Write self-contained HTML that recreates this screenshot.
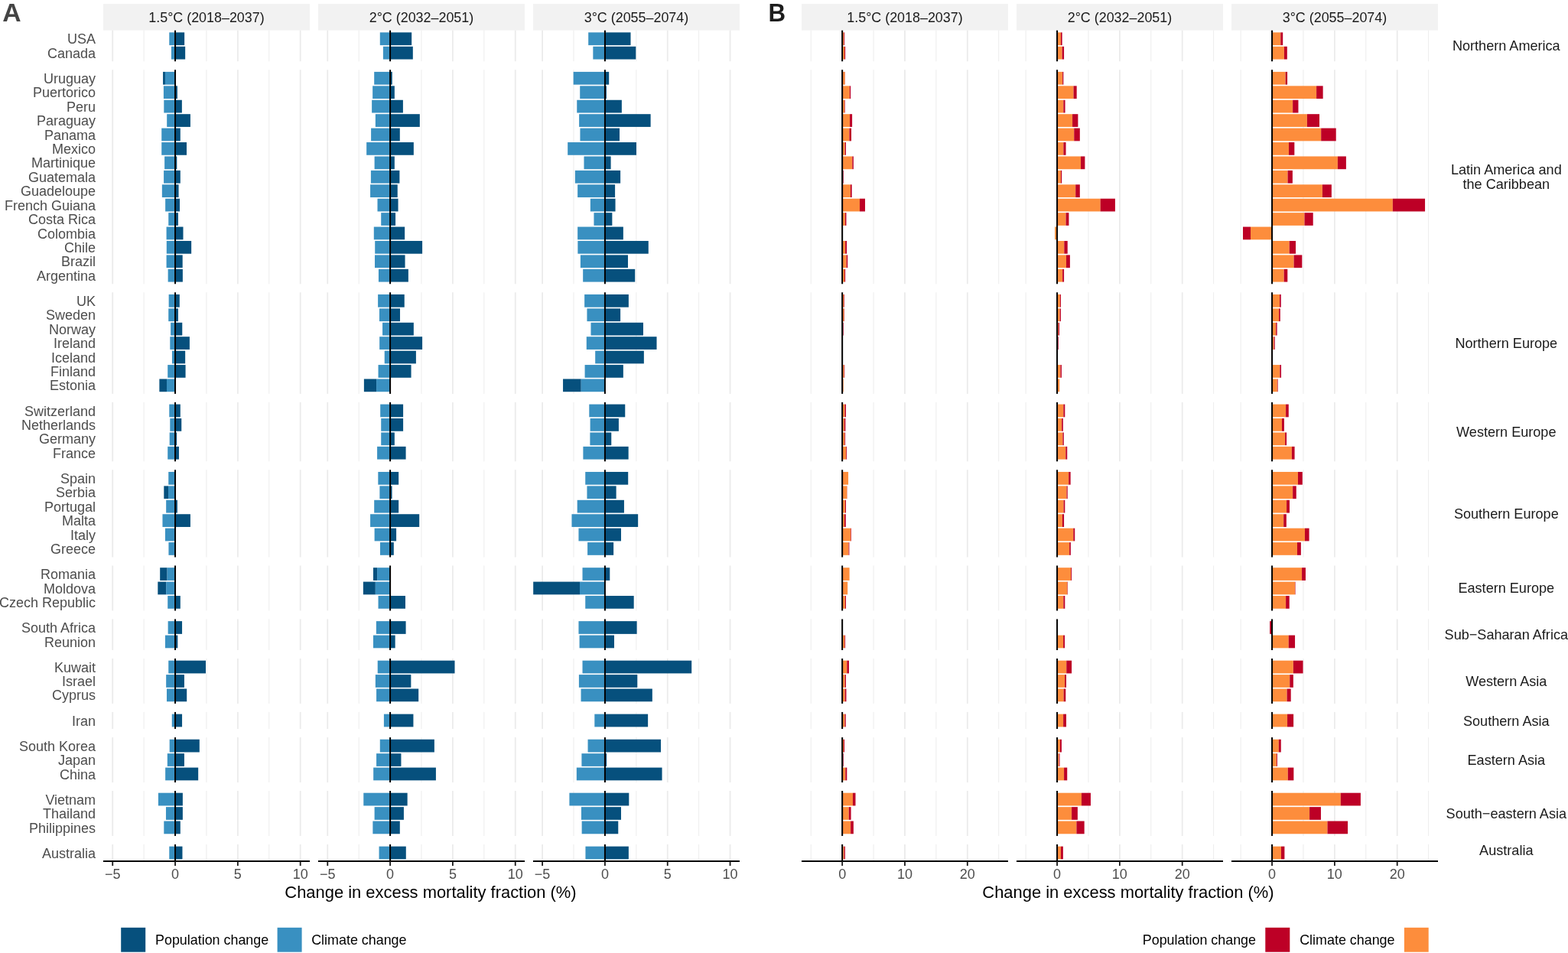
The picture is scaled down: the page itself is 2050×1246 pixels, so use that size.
<!DOCTYPE html>
<html lang="en">
<head>
<meta charset="utf-8">
<title>Change in excess mortality fraction</title>
<style>
html,body{margin:0;padding:0;background:#ffffff;}
body{width:2050px;height:1246px;overflow:hidden;}
svg{display:block;}
svg text{font-family:"Liberation Sans",Arial,Helvetica,sans-serif;}
</style>
</head>
<body>
<svg width="2050" height="1246" viewBox="0 0 2050 1246">
<rect x="0" y="0" width="2050" height="1246" fill="#ffffff"/>
<rect x="135.00" y="5.10" width="270.00" height="34.60" fill="#f2f2f2"/>
<text x="270.00" y="29.30" font-size="17.9" fill="#1a1a1a" text-anchor="middle">1.5°C (2018–2037)</text>
<rect x="416.00" y="5.10" width="270.00" height="34.60" fill="#f2f2f2"/>
<text x="551.00" y="29.30" font-size="17.9" fill="#1a1a1a" text-anchor="middle">2°C (2032–2051)</text>
<rect x="697.00" y="5.10" width="270.00" height="34.60" fill="#f2f2f2"/>
<text x="832.00" y="29.30" font-size="17.9" fill="#1a1a1a" text-anchor="middle">3°C (2055–2074)</text>
<rect x="1048.00" y="5.10" width="270.00" height="34.60" fill="#f2f2f2"/>
<text x="1183.00" y="29.30" font-size="17.9" fill="#1a1a1a" text-anchor="middle">1.5°C (2018–2037)</text>
<rect x="1329.00" y="5.10" width="270.00" height="34.60" fill="#f2f2f2"/>
<text x="1464.00" y="29.30" font-size="17.9" fill="#1a1a1a" text-anchor="middle">2°C (2032–2051)</text>
<rect x="1610.00" y="5.10" width="270.00" height="34.60" fill="#f2f2f2"/>
<text x="1745.00" y="29.30" font-size="17.9" fill="#1a1a1a" text-anchor="middle">3°C (2055–2074)</text>
<line x1="188.14" y1="39.70" x2="188.14" y2="80.23" stroke="#ebebeb" stroke-width="0.95"/>
<line x1="269.96" y1="39.70" x2="269.96" y2="80.23" stroke="#ebebeb" stroke-width="0.95"/>
<line x1="351.78" y1="39.70" x2="351.78" y2="80.23" stroke="#ebebeb" stroke-width="0.95"/>
<line x1="147.23" y1="39.70" x2="147.23" y2="80.23" stroke="#ebebeb" stroke-width="1.8"/>
<line x1="229.05" y1="39.70" x2="229.05" y2="80.23" stroke="#ebebeb" stroke-width="1.8"/>
<line x1="310.87" y1="39.70" x2="310.87" y2="80.23" stroke="#ebebeb" stroke-width="1.8"/>
<line x1="392.69" y1="39.70" x2="392.69" y2="80.23" stroke="#ebebeb" stroke-width="1.8"/>
<line x1="188.14" y1="91.23" x2="188.14" y2="371.26" stroke="#ebebeb" stroke-width="0.95"/>
<line x1="269.96" y1="91.23" x2="269.96" y2="371.26" stroke="#ebebeb" stroke-width="0.95"/>
<line x1="351.78" y1="91.23" x2="351.78" y2="371.26" stroke="#ebebeb" stroke-width="0.95"/>
<line x1="147.23" y1="91.23" x2="147.23" y2="371.26" stroke="#ebebeb" stroke-width="1.8"/>
<line x1="229.05" y1="91.23" x2="229.05" y2="371.26" stroke="#ebebeb" stroke-width="1.8"/>
<line x1="310.87" y1="91.23" x2="310.87" y2="371.26" stroke="#ebebeb" stroke-width="1.8"/>
<line x1="392.69" y1="91.23" x2="392.69" y2="371.26" stroke="#ebebeb" stroke-width="1.8"/>
<line x1="188.14" y1="382.26" x2="188.14" y2="514.91" stroke="#ebebeb" stroke-width="0.95"/>
<line x1="269.96" y1="382.26" x2="269.96" y2="514.91" stroke="#ebebeb" stroke-width="0.95"/>
<line x1="351.78" y1="382.26" x2="351.78" y2="514.91" stroke="#ebebeb" stroke-width="0.95"/>
<line x1="147.23" y1="382.26" x2="147.23" y2="514.91" stroke="#ebebeb" stroke-width="1.8"/>
<line x1="229.05" y1="382.26" x2="229.05" y2="514.91" stroke="#ebebeb" stroke-width="1.8"/>
<line x1="310.87" y1="382.26" x2="310.87" y2="514.91" stroke="#ebebeb" stroke-width="1.8"/>
<line x1="392.69" y1="382.26" x2="392.69" y2="514.91" stroke="#ebebeb" stroke-width="1.8"/>
<line x1="188.14" y1="525.91" x2="188.14" y2="603.28" stroke="#ebebeb" stroke-width="0.95"/>
<line x1="269.96" y1="525.91" x2="269.96" y2="603.28" stroke="#ebebeb" stroke-width="0.95"/>
<line x1="351.78" y1="525.91" x2="351.78" y2="603.28" stroke="#ebebeb" stroke-width="0.95"/>
<line x1="147.23" y1="525.91" x2="147.23" y2="603.28" stroke="#ebebeb" stroke-width="1.8"/>
<line x1="229.05" y1="525.91" x2="229.05" y2="603.28" stroke="#ebebeb" stroke-width="1.8"/>
<line x1="310.87" y1="525.91" x2="310.87" y2="603.28" stroke="#ebebeb" stroke-width="1.8"/>
<line x1="392.69" y1="525.91" x2="392.69" y2="603.28" stroke="#ebebeb" stroke-width="1.8"/>
<line x1="188.14" y1="614.28" x2="188.14" y2="728.50" stroke="#ebebeb" stroke-width="0.95"/>
<line x1="269.96" y1="614.28" x2="269.96" y2="728.50" stroke="#ebebeb" stroke-width="0.95"/>
<line x1="351.78" y1="614.28" x2="351.78" y2="728.50" stroke="#ebebeb" stroke-width="0.95"/>
<line x1="147.23" y1="614.28" x2="147.23" y2="728.50" stroke="#ebebeb" stroke-width="1.8"/>
<line x1="229.05" y1="614.28" x2="229.05" y2="728.50" stroke="#ebebeb" stroke-width="1.8"/>
<line x1="310.87" y1="614.28" x2="310.87" y2="728.50" stroke="#ebebeb" stroke-width="1.8"/>
<line x1="392.69" y1="614.28" x2="392.69" y2="728.50" stroke="#ebebeb" stroke-width="1.8"/>
<line x1="188.14" y1="739.50" x2="188.14" y2="798.46" stroke="#ebebeb" stroke-width="0.95"/>
<line x1="269.96" y1="739.50" x2="269.96" y2="798.46" stroke="#ebebeb" stroke-width="0.95"/>
<line x1="351.78" y1="739.50" x2="351.78" y2="798.46" stroke="#ebebeb" stroke-width="0.95"/>
<line x1="147.23" y1="739.50" x2="147.23" y2="798.46" stroke="#ebebeb" stroke-width="1.8"/>
<line x1="229.05" y1="739.50" x2="229.05" y2="798.46" stroke="#ebebeb" stroke-width="1.8"/>
<line x1="310.87" y1="739.50" x2="310.87" y2="798.46" stroke="#ebebeb" stroke-width="1.8"/>
<line x1="392.69" y1="739.50" x2="392.69" y2="798.46" stroke="#ebebeb" stroke-width="1.8"/>
<line x1="188.14" y1="809.46" x2="188.14" y2="849.99" stroke="#ebebeb" stroke-width="0.95"/>
<line x1="269.96" y1="809.46" x2="269.96" y2="849.99" stroke="#ebebeb" stroke-width="0.95"/>
<line x1="351.78" y1="809.46" x2="351.78" y2="849.99" stroke="#ebebeb" stroke-width="0.95"/>
<line x1="147.23" y1="809.46" x2="147.23" y2="849.99" stroke="#ebebeb" stroke-width="1.8"/>
<line x1="229.05" y1="809.46" x2="229.05" y2="849.99" stroke="#ebebeb" stroke-width="1.8"/>
<line x1="310.87" y1="809.46" x2="310.87" y2="849.99" stroke="#ebebeb" stroke-width="1.8"/>
<line x1="392.69" y1="809.46" x2="392.69" y2="849.99" stroke="#ebebeb" stroke-width="1.8"/>
<line x1="188.14" y1="860.99" x2="188.14" y2="919.94" stroke="#ebebeb" stroke-width="0.95"/>
<line x1="269.96" y1="860.99" x2="269.96" y2="919.94" stroke="#ebebeb" stroke-width="0.95"/>
<line x1="351.78" y1="860.99" x2="351.78" y2="919.94" stroke="#ebebeb" stroke-width="0.95"/>
<line x1="147.23" y1="860.99" x2="147.23" y2="919.94" stroke="#ebebeb" stroke-width="1.8"/>
<line x1="229.05" y1="860.99" x2="229.05" y2="919.94" stroke="#ebebeb" stroke-width="1.8"/>
<line x1="310.87" y1="860.99" x2="310.87" y2="919.94" stroke="#ebebeb" stroke-width="1.8"/>
<line x1="392.69" y1="860.99" x2="392.69" y2="919.94" stroke="#ebebeb" stroke-width="1.8"/>
<line x1="188.14" y1="930.94" x2="188.14" y2="953.05" stroke="#ebebeb" stroke-width="0.95"/>
<line x1="269.96" y1="930.94" x2="269.96" y2="953.05" stroke="#ebebeb" stroke-width="0.95"/>
<line x1="351.78" y1="930.94" x2="351.78" y2="953.05" stroke="#ebebeb" stroke-width="0.95"/>
<line x1="147.23" y1="930.94" x2="147.23" y2="953.05" stroke="#ebebeb" stroke-width="1.8"/>
<line x1="229.05" y1="930.94" x2="229.05" y2="953.05" stroke="#ebebeb" stroke-width="1.8"/>
<line x1="310.87" y1="930.94" x2="310.87" y2="953.05" stroke="#ebebeb" stroke-width="1.8"/>
<line x1="392.69" y1="930.94" x2="392.69" y2="953.05" stroke="#ebebeb" stroke-width="1.8"/>
<line x1="188.14" y1="964.05" x2="188.14" y2="1023.00" stroke="#ebebeb" stroke-width="0.95"/>
<line x1="269.96" y1="964.05" x2="269.96" y2="1023.00" stroke="#ebebeb" stroke-width="0.95"/>
<line x1="351.78" y1="964.05" x2="351.78" y2="1023.00" stroke="#ebebeb" stroke-width="0.95"/>
<line x1="147.23" y1="964.05" x2="147.23" y2="1023.00" stroke="#ebebeb" stroke-width="1.8"/>
<line x1="229.05" y1="964.05" x2="229.05" y2="1023.00" stroke="#ebebeb" stroke-width="1.8"/>
<line x1="310.87" y1="964.05" x2="310.87" y2="1023.00" stroke="#ebebeb" stroke-width="1.8"/>
<line x1="392.69" y1="964.05" x2="392.69" y2="1023.00" stroke="#ebebeb" stroke-width="1.8"/>
<line x1="188.14" y1="1034.00" x2="188.14" y2="1092.96" stroke="#ebebeb" stroke-width="0.95"/>
<line x1="269.96" y1="1034.00" x2="269.96" y2="1092.96" stroke="#ebebeb" stroke-width="0.95"/>
<line x1="351.78" y1="1034.00" x2="351.78" y2="1092.96" stroke="#ebebeb" stroke-width="0.95"/>
<line x1="147.23" y1="1034.00" x2="147.23" y2="1092.96" stroke="#ebebeb" stroke-width="1.8"/>
<line x1="229.05" y1="1034.00" x2="229.05" y2="1092.96" stroke="#ebebeb" stroke-width="1.8"/>
<line x1="310.87" y1="1034.00" x2="310.87" y2="1092.96" stroke="#ebebeb" stroke-width="1.8"/>
<line x1="392.69" y1="1034.00" x2="392.69" y2="1092.96" stroke="#ebebeb" stroke-width="1.8"/>
<line x1="188.14" y1="1103.96" x2="188.14" y2="1126.07" stroke="#ebebeb" stroke-width="0.95"/>
<line x1="269.96" y1="1103.96" x2="269.96" y2="1126.07" stroke="#ebebeb" stroke-width="0.95"/>
<line x1="351.78" y1="1103.96" x2="351.78" y2="1126.07" stroke="#ebebeb" stroke-width="0.95"/>
<line x1="147.23" y1="1103.96" x2="147.23" y2="1126.07" stroke="#ebebeb" stroke-width="1.8"/>
<line x1="229.05" y1="1103.96" x2="229.05" y2="1126.07" stroke="#ebebeb" stroke-width="1.8"/>
<line x1="310.87" y1="1103.96" x2="310.87" y2="1126.07" stroke="#ebebeb" stroke-width="1.8"/>
<line x1="392.69" y1="1103.96" x2="392.69" y2="1126.07" stroke="#ebebeb" stroke-width="1.8"/>
<line x1="469.19" y1="39.70" x2="469.19" y2="80.23" stroke="#ebebeb" stroke-width="0.95"/>
<line x1="551.01" y1="39.70" x2="551.01" y2="80.23" stroke="#ebebeb" stroke-width="0.95"/>
<line x1="632.82" y1="39.70" x2="632.82" y2="80.23" stroke="#ebebeb" stroke-width="0.95"/>
<line x1="428.28" y1="39.70" x2="428.28" y2="80.23" stroke="#ebebeb" stroke-width="1.8"/>
<line x1="510.10" y1="39.70" x2="510.10" y2="80.23" stroke="#ebebeb" stroke-width="1.8"/>
<line x1="591.91" y1="39.70" x2="591.91" y2="80.23" stroke="#ebebeb" stroke-width="1.8"/>
<line x1="673.73" y1="39.70" x2="673.73" y2="80.23" stroke="#ebebeb" stroke-width="1.8"/>
<line x1="469.19" y1="91.23" x2="469.19" y2="371.26" stroke="#ebebeb" stroke-width="0.95"/>
<line x1="551.01" y1="91.23" x2="551.01" y2="371.26" stroke="#ebebeb" stroke-width="0.95"/>
<line x1="632.82" y1="91.23" x2="632.82" y2="371.26" stroke="#ebebeb" stroke-width="0.95"/>
<line x1="428.28" y1="91.23" x2="428.28" y2="371.26" stroke="#ebebeb" stroke-width="1.8"/>
<line x1="510.10" y1="91.23" x2="510.10" y2="371.26" stroke="#ebebeb" stroke-width="1.8"/>
<line x1="591.91" y1="91.23" x2="591.91" y2="371.26" stroke="#ebebeb" stroke-width="1.8"/>
<line x1="673.73" y1="91.23" x2="673.73" y2="371.26" stroke="#ebebeb" stroke-width="1.8"/>
<line x1="469.19" y1="382.26" x2="469.19" y2="514.91" stroke="#ebebeb" stroke-width="0.95"/>
<line x1="551.01" y1="382.26" x2="551.01" y2="514.91" stroke="#ebebeb" stroke-width="0.95"/>
<line x1="632.82" y1="382.26" x2="632.82" y2="514.91" stroke="#ebebeb" stroke-width="0.95"/>
<line x1="428.28" y1="382.26" x2="428.28" y2="514.91" stroke="#ebebeb" stroke-width="1.8"/>
<line x1="510.10" y1="382.26" x2="510.10" y2="514.91" stroke="#ebebeb" stroke-width="1.8"/>
<line x1="591.91" y1="382.26" x2="591.91" y2="514.91" stroke="#ebebeb" stroke-width="1.8"/>
<line x1="673.73" y1="382.26" x2="673.73" y2="514.91" stroke="#ebebeb" stroke-width="1.8"/>
<line x1="469.19" y1="525.91" x2="469.19" y2="603.28" stroke="#ebebeb" stroke-width="0.95"/>
<line x1="551.01" y1="525.91" x2="551.01" y2="603.28" stroke="#ebebeb" stroke-width="0.95"/>
<line x1="632.82" y1="525.91" x2="632.82" y2="603.28" stroke="#ebebeb" stroke-width="0.95"/>
<line x1="428.28" y1="525.91" x2="428.28" y2="603.28" stroke="#ebebeb" stroke-width="1.8"/>
<line x1="510.10" y1="525.91" x2="510.10" y2="603.28" stroke="#ebebeb" stroke-width="1.8"/>
<line x1="591.91" y1="525.91" x2="591.91" y2="603.28" stroke="#ebebeb" stroke-width="1.8"/>
<line x1="673.73" y1="525.91" x2="673.73" y2="603.28" stroke="#ebebeb" stroke-width="1.8"/>
<line x1="469.19" y1="614.28" x2="469.19" y2="728.50" stroke="#ebebeb" stroke-width="0.95"/>
<line x1="551.01" y1="614.28" x2="551.01" y2="728.50" stroke="#ebebeb" stroke-width="0.95"/>
<line x1="632.82" y1="614.28" x2="632.82" y2="728.50" stroke="#ebebeb" stroke-width="0.95"/>
<line x1="428.28" y1="614.28" x2="428.28" y2="728.50" stroke="#ebebeb" stroke-width="1.8"/>
<line x1="510.10" y1="614.28" x2="510.10" y2="728.50" stroke="#ebebeb" stroke-width="1.8"/>
<line x1="591.91" y1="614.28" x2="591.91" y2="728.50" stroke="#ebebeb" stroke-width="1.8"/>
<line x1="673.73" y1="614.28" x2="673.73" y2="728.50" stroke="#ebebeb" stroke-width="1.8"/>
<line x1="469.19" y1="739.50" x2="469.19" y2="798.46" stroke="#ebebeb" stroke-width="0.95"/>
<line x1="551.01" y1="739.50" x2="551.01" y2="798.46" stroke="#ebebeb" stroke-width="0.95"/>
<line x1="632.82" y1="739.50" x2="632.82" y2="798.46" stroke="#ebebeb" stroke-width="0.95"/>
<line x1="428.28" y1="739.50" x2="428.28" y2="798.46" stroke="#ebebeb" stroke-width="1.8"/>
<line x1="510.10" y1="739.50" x2="510.10" y2="798.46" stroke="#ebebeb" stroke-width="1.8"/>
<line x1="591.91" y1="739.50" x2="591.91" y2="798.46" stroke="#ebebeb" stroke-width="1.8"/>
<line x1="673.73" y1="739.50" x2="673.73" y2="798.46" stroke="#ebebeb" stroke-width="1.8"/>
<line x1="469.19" y1="809.46" x2="469.19" y2="849.99" stroke="#ebebeb" stroke-width="0.95"/>
<line x1="551.01" y1="809.46" x2="551.01" y2="849.99" stroke="#ebebeb" stroke-width="0.95"/>
<line x1="632.82" y1="809.46" x2="632.82" y2="849.99" stroke="#ebebeb" stroke-width="0.95"/>
<line x1="428.28" y1="809.46" x2="428.28" y2="849.99" stroke="#ebebeb" stroke-width="1.8"/>
<line x1="510.10" y1="809.46" x2="510.10" y2="849.99" stroke="#ebebeb" stroke-width="1.8"/>
<line x1="591.91" y1="809.46" x2="591.91" y2="849.99" stroke="#ebebeb" stroke-width="1.8"/>
<line x1="673.73" y1="809.46" x2="673.73" y2="849.99" stroke="#ebebeb" stroke-width="1.8"/>
<line x1="469.19" y1="860.99" x2="469.19" y2="919.94" stroke="#ebebeb" stroke-width="0.95"/>
<line x1="551.01" y1="860.99" x2="551.01" y2="919.94" stroke="#ebebeb" stroke-width="0.95"/>
<line x1="632.82" y1="860.99" x2="632.82" y2="919.94" stroke="#ebebeb" stroke-width="0.95"/>
<line x1="428.28" y1="860.99" x2="428.28" y2="919.94" stroke="#ebebeb" stroke-width="1.8"/>
<line x1="510.10" y1="860.99" x2="510.10" y2="919.94" stroke="#ebebeb" stroke-width="1.8"/>
<line x1="591.91" y1="860.99" x2="591.91" y2="919.94" stroke="#ebebeb" stroke-width="1.8"/>
<line x1="673.73" y1="860.99" x2="673.73" y2="919.94" stroke="#ebebeb" stroke-width="1.8"/>
<line x1="469.19" y1="930.94" x2="469.19" y2="953.05" stroke="#ebebeb" stroke-width="0.95"/>
<line x1="551.01" y1="930.94" x2="551.01" y2="953.05" stroke="#ebebeb" stroke-width="0.95"/>
<line x1="632.82" y1="930.94" x2="632.82" y2="953.05" stroke="#ebebeb" stroke-width="0.95"/>
<line x1="428.28" y1="930.94" x2="428.28" y2="953.05" stroke="#ebebeb" stroke-width="1.8"/>
<line x1="510.10" y1="930.94" x2="510.10" y2="953.05" stroke="#ebebeb" stroke-width="1.8"/>
<line x1="591.91" y1="930.94" x2="591.91" y2="953.05" stroke="#ebebeb" stroke-width="1.8"/>
<line x1="673.73" y1="930.94" x2="673.73" y2="953.05" stroke="#ebebeb" stroke-width="1.8"/>
<line x1="469.19" y1="964.05" x2="469.19" y2="1023.00" stroke="#ebebeb" stroke-width="0.95"/>
<line x1="551.01" y1="964.05" x2="551.01" y2="1023.00" stroke="#ebebeb" stroke-width="0.95"/>
<line x1="632.82" y1="964.05" x2="632.82" y2="1023.00" stroke="#ebebeb" stroke-width="0.95"/>
<line x1="428.28" y1="964.05" x2="428.28" y2="1023.00" stroke="#ebebeb" stroke-width="1.8"/>
<line x1="510.10" y1="964.05" x2="510.10" y2="1023.00" stroke="#ebebeb" stroke-width="1.8"/>
<line x1="591.91" y1="964.05" x2="591.91" y2="1023.00" stroke="#ebebeb" stroke-width="1.8"/>
<line x1="673.73" y1="964.05" x2="673.73" y2="1023.00" stroke="#ebebeb" stroke-width="1.8"/>
<line x1="469.19" y1="1034.00" x2="469.19" y2="1092.96" stroke="#ebebeb" stroke-width="0.95"/>
<line x1="551.01" y1="1034.00" x2="551.01" y2="1092.96" stroke="#ebebeb" stroke-width="0.95"/>
<line x1="632.82" y1="1034.00" x2="632.82" y2="1092.96" stroke="#ebebeb" stroke-width="0.95"/>
<line x1="428.28" y1="1034.00" x2="428.28" y2="1092.96" stroke="#ebebeb" stroke-width="1.8"/>
<line x1="510.10" y1="1034.00" x2="510.10" y2="1092.96" stroke="#ebebeb" stroke-width="1.8"/>
<line x1="591.91" y1="1034.00" x2="591.91" y2="1092.96" stroke="#ebebeb" stroke-width="1.8"/>
<line x1="673.73" y1="1034.00" x2="673.73" y2="1092.96" stroke="#ebebeb" stroke-width="1.8"/>
<line x1="469.19" y1="1103.96" x2="469.19" y2="1126.07" stroke="#ebebeb" stroke-width="0.95"/>
<line x1="551.01" y1="1103.96" x2="551.01" y2="1126.07" stroke="#ebebeb" stroke-width="0.95"/>
<line x1="632.82" y1="1103.96" x2="632.82" y2="1126.07" stroke="#ebebeb" stroke-width="0.95"/>
<line x1="428.28" y1="1103.96" x2="428.28" y2="1126.07" stroke="#ebebeb" stroke-width="1.8"/>
<line x1="510.10" y1="1103.96" x2="510.10" y2="1126.07" stroke="#ebebeb" stroke-width="1.8"/>
<line x1="591.91" y1="1103.96" x2="591.91" y2="1126.07" stroke="#ebebeb" stroke-width="1.8"/>
<line x1="673.73" y1="1103.96" x2="673.73" y2="1126.07" stroke="#ebebeb" stroke-width="1.8"/>
<line x1="750.01" y1="39.70" x2="750.01" y2="80.23" stroke="#ebebeb" stroke-width="0.95"/>
<line x1="831.83" y1="39.70" x2="831.83" y2="80.23" stroke="#ebebeb" stroke-width="0.95"/>
<line x1="913.65" y1="39.70" x2="913.65" y2="80.23" stroke="#ebebeb" stroke-width="0.95"/>
<line x1="709.11" y1="39.70" x2="709.11" y2="80.23" stroke="#ebebeb" stroke-width="1.8"/>
<line x1="790.92" y1="39.70" x2="790.92" y2="80.23" stroke="#ebebeb" stroke-width="1.8"/>
<line x1="872.74" y1="39.70" x2="872.74" y2="80.23" stroke="#ebebeb" stroke-width="1.8"/>
<line x1="954.56" y1="39.70" x2="954.56" y2="80.23" stroke="#ebebeb" stroke-width="1.8"/>
<line x1="750.01" y1="91.23" x2="750.01" y2="371.26" stroke="#ebebeb" stroke-width="0.95"/>
<line x1="831.83" y1="91.23" x2="831.83" y2="371.26" stroke="#ebebeb" stroke-width="0.95"/>
<line x1="913.65" y1="91.23" x2="913.65" y2="371.26" stroke="#ebebeb" stroke-width="0.95"/>
<line x1="709.11" y1="91.23" x2="709.11" y2="371.26" stroke="#ebebeb" stroke-width="1.8"/>
<line x1="790.92" y1="91.23" x2="790.92" y2="371.26" stroke="#ebebeb" stroke-width="1.8"/>
<line x1="872.74" y1="91.23" x2="872.74" y2="371.26" stroke="#ebebeb" stroke-width="1.8"/>
<line x1="954.56" y1="91.23" x2="954.56" y2="371.26" stroke="#ebebeb" stroke-width="1.8"/>
<line x1="750.01" y1="382.26" x2="750.01" y2="514.91" stroke="#ebebeb" stroke-width="0.95"/>
<line x1="831.83" y1="382.26" x2="831.83" y2="514.91" stroke="#ebebeb" stroke-width="0.95"/>
<line x1="913.65" y1="382.26" x2="913.65" y2="514.91" stroke="#ebebeb" stroke-width="0.95"/>
<line x1="709.11" y1="382.26" x2="709.11" y2="514.91" stroke="#ebebeb" stroke-width="1.8"/>
<line x1="790.92" y1="382.26" x2="790.92" y2="514.91" stroke="#ebebeb" stroke-width="1.8"/>
<line x1="872.74" y1="382.26" x2="872.74" y2="514.91" stroke="#ebebeb" stroke-width="1.8"/>
<line x1="954.56" y1="382.26" x2="954.56" y2="514.91" stroke="#ebebeb" stroke-width="1.8"/>
<line x1="750.01" y1="525.91" x2="750.01" y2="603.28" stroke="#ebebeb" stroke-width="0.95"/>
<line x1="831.83" y1="525.91" x2="831.83" y2="603.28" stroke="#ebebeb" stroke-width="0.95"/>
<line x1="913.65" y1="525.91" x2="913.65" y2="603.28" stroke="#ebebeb" stroke-width="0.95"/>
<line x1="709.11" y1="525.91" x2="709.11" y2="603.28" stroke="#ebebeb" stroke-width="1.8"/>
<line x1="790.92" y1="525.91" x2="790.92" y2="603.28" stroke="#ebebeb" stroke-width="1.8"/>
<line x1="872.74" y1="525.91" x2="872.74" y2="603.28" stroke="#ebebeb" stroke-width="1.8"/>
<line x1="954.56" y1="525.91" x2="954.56" y2="603.28" stroke="#ebebeb" stroke-width="1.8"/>
<line x1="750.01" y1="614.28" x2="750.01" y2="728.50" stroke="#ebebeb" stroke-width="0.95"/>
<line x1="831.83" y1="614.28" x2="831.83" y2="728.50" stroke="#ebebeb" stroke-width="0.95"/>
<line x1="913.65" y1="614.28" x2="913.65" y2="728.50" stroke="#ebebeb" stroke-width="0.95"/>
<line x1="709.11" y1="614.28" x2="709.11" y2="728.50" stroke="#ebebeb" stroke-width="1.8"/>
<line x1="790.92" y1="614.28" x2="790.92" y2="728.50" stroke="#ebebeb" stroke-width="1.8"/>
<line x1="872.74" y1="614.28" x2="872.74" y2="728.50" stroke="#ebebeb" stroke-width="1.8"/>
<line x1="954.56" y1="614.28" x2="954.56" y2="728.50" stroke="#ebebeb" stroke-width="1.8"/>
<line x1="750.01" y1="739.50" x2="750.01" y2="798.46" stroke="#ebebeb" stroke-width="0.95"/>
<line x1="831.83" y1="739.50" x2="831.83" y2="798.46" stroke="#ebebeb" stroke-width="0.95"/>
<line x1="913.65" y1="739.50" x2="913.65" y2="798.46" stroke="#ebebeb" stroke-width="0.95"/>
<line x1="709.11" y1="739.50" x2="709.11" y2="798.46" stroke="#ebebeb" stroke-width="1.8"/>
<line x1="790.92" y1="739.50" x2="790.92" y2="798.46" stroke="#ebebeb" stroke-width="1.8"/>
<line x1="872.74" y1="739.50" x2="872.74" y2="798.46" stroke="#ebebeb" stroke-width="1.8"/>
<line x1="954.56" y1="739.50" x2="954.56" y2="798.46" stroke="#ebebeb" stroke-width="1.8"/>
<line x1="750.01" y1="809.46" x2="750.01" y2="849.99" stroke="#ebebeb" stroke-width="0.95"/>
<line x1="831.83" y1="809.46" x2="831.83" y2="849.99" stroke="#ebebeb" stroke-width="0.95"/>
<line x1="913.65" y1="809.46" x2="913.65" y2="849.99" stroke="#ebebeb" stroke-width="0.95"/>
<line x1="709.11" y1="809.46" x2="709.11" y2="849.99" stroke="#ebebeb" stroke-width="1.8"/>
<line x1="790.92" y1="809.46" x2="790.92" y2="849.99" stroke="#ebebeb" stroke-width="1.8"/>
<line x1="872.74" y1="809.46" x2="872.74" y2="849.99" stroke="#ebebeb" stroke-width="1.8"/>
<line x1="954.56" y1="809.46" x2="954.56" y2="849.99" stroke="#ebebeb" stroke-width="1.8"/>
<line x1="750.01" y1="860.99" x2="750.01" y2="919.94" stroke="#ebebeb" stroke-width="0.95"/>
<line x1="831.83" y1="860.99" x2="831.83" y2="919.94" stroke="#ebebeb" stroke-width="0.95"/>
<line x1="913.65" y1="860.99" x2="913.65" y2="919.94" stroke="#ebebeb" stroke-width="0.95"/>
<line x1="709.11" y1="860.99" x2="709.11" y2="919.94" stroke="#ebebeb" stroke-width="1.8"/>
<line x1="790.92" y1="860.99" x2="790.92" y2="919.94" stroke="#ebebeb" stroke-width="1.8"/>
<line x1="872.74" y1="860.99" x2="872.74" y2="919.94" stroke="#ebebeb" stroke-width="1.8"/>
<line x1="954.56" y1="860.99" x2="954.56" y2="919.94" stroke="#ebebeb" stroke-width="1.8"/>
<line x1="750.01" y1="930.94" x2="750.01" y2="953.05" stroke="#ebebeb" stroke-width="0.95"/>
<line x1="831.83" y1="930.94" x2="831.83" y2="953.05" stroke="#ebebeb" stroke-width="0.95"/>
<line x1="913.65" y1="930.94" x2="913.65" y2="953.05" stroke="#ebebeb" stroke-width="0.95"/>
<line x1="709.11" y1="930.94" x2="709.11" y2="953.05" stroke="#ebebeb" stroke-width="1.8"/>
<line x1="790.92" y1="930.94" x2="790.92" y2="953.05" stroke="#ebebeb" stroke-width="1.8"/>
<line x1="872.74" y1="930.94" x2="872.74" y2="953.05" stroke="#ebebeb" stroke-width="1.8"/>
<line x1="954.56" y1="930.94" x2="954.56" y2="953.05" stroke="#ebebeb" stroke-width="1.8"/>
<line x1="750.01" y1="964.05" x2="750.01" y2="1023.00" stroke="#ebebeb" stroke-width="0.95"/>
<line x1="831.83" y1="964.05" x2="831.83" y2="1023.00" stroke="#ebebeb" stroke-width="0.95"/>
<line x1="913.65" y1="964.05" x2="913.65" y2="1023.00" stroke="#ebebeb" stroke-width="0.95"/>
<line x1="709.11" y1="964.05" x2="709.11" y2="1023.00" stroke="#ebebeb" stroke-width="1.8"/>
<line x1="790.92" y1="964.05" x2="790.92" y2="1023.00" stroke="#ebebeb" stroke-width="1.8"/>
<line x1="872.74" y1="964.05" x2="872.74" y2="1023.00" stroke="#ebebeb" stroke-width="1.8"/>
<line x1="954.56" y1="964.05" x2="954.56" y2="1023.00" stroke="#ebebeb" stroke-width="1.8"/>
<line x1="750.01" y1="1034.00" x2="750.01" y2="1092.96" stroke="#ebebeb" stroke-width="0.95"/>
<line x1="831.83" y1="1034.00" x2="831.83" y2="1092.96" stroke="#ebebeb" stroke-width="0.95"/>
<line x1="913.65" y1="1034.00" x2="913.65" y2="1092.96" stroke="#ebebeb" stroke-width="0.95"/>
<line x1="709.11" y1="1034.00" x2="709.11" y2="1092.96" stroke="#ebebeb" stroke-width="1.8"/>
<line x1="790.92" y1="1034.00" x2="790.92" y2="1092.96" stroke="#ebebeb" stroke-width="1.8"/>
<line x1="872.74" y1="1034.00" x2="872.74" y2="1092.96" stroke="#ebebeb" stroke-width="1.8"/>
<line x1="954.56" y1="1034.00" x2="954.56" y2="1092.96" stroke="#ebebeb" stroke-width="1.8"/>
<line x1="750.01" y1="1103.96" x2="750.01" y2="1126.07" stroke="#ebebeb" stroke-width="0.95"/>
<line x1="831.83" y1="1103.96" x2="831.83" y2="1126.07" stroke="#ebebeb" stroke-width="0.95"/>
<line x1="913.65" y1="1103.96" x2="913.65" y2="1126.07" stroke="#ebebeb" stroke-width="0.95"/>
<line x1="709.11" y1="1103.96" x2="709.11" y2="1126.07" stroke="#ebebeb" stroke-width="1.8"/>
<line x1="790.92" y1="1103.96" x2="790.92" y2="1126.07" stroke="#ebebeb" stroke-width="1.8"/>
<line x1="872.74" y1="1103.96" x2="872.74" y2="1126.07" stroke="#ebebeb" stroke-width="1.8"/>
<line x1="954.56" y1="1103.96" x2="954.56" y2="1126.07" stroke="#ebebeb" stroke-width="1.8"/>
<line x1="1060.25" y1="39.70" x2="1060.25" y2="80.23" stroke="#ebebeb" stroke-width="0.95"/>
<line x1="1142.07" y1="39.70" x2="1142.07" y2="80.23" stroke="#ebebeb" stroke-width="0.95"/>
<line x1="1223.89" y1="39.70" x2="1223.89" y2="80.23" stroke="#ebebeb" stroke-width="0.95"/>
<line x1="1305.71" y1="39.70" x2="1305.71" y2="80.23" stroke="#ebebeb" stroke-width="0.95"/>
<line x1="1101.16" y1="39.70" x2="1101.16" y2="80.23" stroke="#ebebeb" stroke-width="1.8"/>
<line x1="1182.98" y1="39.70" x2="1182.98" y2="80.23" stroke="#ebebeb" stroke-width="1.8"/>
<line x1="1264.80" y1="39.70" x2="1264.80" y2="80.23" stroke="#ebebeb" stroke-width="1.8"/>
<line x1="1060.25" y1="91.23" x2="1060.25" y2="371.26" stroke="#ebebeb" stroke-width="0.95"/>
<line x1="1142.07" y1="91.23" x2="1142.07" y2="371.26" stroke="#ebebeb" stroke-width="0.95"/>
<line x1="1223.89" y1="91.23" x2="1223.89" y2="371.26" stroke="#ebebeb" stroke-width="0.95"/>
<line x1="1305.71" y1="91.23" x2="1305.71" y2="371.26" stroke="#ebebeb" stroke-width="0.95"/>
<line x1="1101.16" y1="91.23" x2="1101.16" y2="371.26" stroke="#ebebeb" stroke-width="1.8"/>
<line x1="1182.98" y1="91.23" x2="1182.98" y2="371.26" stroke="#ebebeb" stroke-width="1.8"/>
<line x1="1264.80" y1="91.23" x2="1264.80" y2="371.26" stroke="#ebebeb" stroke-width="1.8"/>
<line x1="1060.25" y1="382.26" x2="1060.25" y2="514.91" stroke="#ebebeb" stroke-width="0.95"/>
<line x1="1142.07" y1="382.26" x2="1142.07" y2="514.91" stroke="#ebebeb" stroke-width="0.95"/>
<line x1="1223.89" y1="382.26" x2="1223.89" y2="514.91" stroke="#ebebeb" stroke-width="0.95"/>
<line x1="1305.71" y1="382.26" x2="1305.71" y2="514.91" stroke="#ebebeb" stroke-width="0.95"/>
<line x1="1101.16" y1="382.26" x2="1101.16" y2="514.91" stroke="#ebebeb" stroke-width="1.8"/>
<line x1="1182.98" y1="382.26" x2="1182.98" y2="514.91" stroke="#ebebeb" stroke-width="1.8"/>
<line x1="1264.80" y1="382.26" x2="1264.80" y2="514.91" stroke="#ebebeb" stroke-width="1.8"/>
<line x1="1060.25" y1="525.91" x2="1060.25" y2="603.28" stroke="#ebebeb" stroke-width="0.95"/>
<line x1="1142.07" y1="525.91" x2="1142.07" y2="603.28" stroke="#ebebeb" stroke-width="0.95"/>
<line x1="1223.89" y1="525.91" x2="1223.89" y2="603.28" stroke="#ebebeb" stroke-width="0.95"/>
<line x1="1305.71" y1="525.91" x2="1305.71" y2="603.28" stroke="#ebebeb" stroke-width="0.95"/>
<line x1="1101.16" y1="525.91" x2="1101.16" y2="603.28" stroke="#ebebeb" stroke-width="1.8"/>
<line x1="1182.98" y1="525.91" x2="1182.98" y2="603.28" stroke="#ebebeb" stroke-width="1.8"/>
<line x1="1264.80" y1="525.91" x2="1264.80" y2="603.28" stroke="#ebebeb" stroke-width="1.8"/>
<line x1="1060.25" y1="614.28" x2="1060.25" y2="728.50" stroke="#ebebeb" stroke-width="0.95"/>
<line x1="1142.07" y1="614.28" x2="1142.07" y2="728.50" stroke="#ebebeb" stroke-width="0.95"/>
<line x1="1223.89" y1="614.28" x2="1223.89" y2="728.50" stroke="#ebebeb" stroke-width="0.95"/>
<line x1="1305.71" y1="614.28" x2="1305.71" y2="728.50" stroke="#ebebeb" stroke-width="0.95"/>
<line x1="1101.16" y1="614.28" x2="1101.16" y2="728.50" stroke="#ebebeb" stroke-width="1.8"/>
<line x1="1182.98" y1="614.28" x2="1182.98" y2="728.50" stroke="#ebebeb" stroke-width="1.8"/>
<line x1="1264.80" y1="614.28" x2="1264.80" y2="728.50" stroke="#ebebeb" stroke-width="1.8"/>
<line x1="1060.25" y1="739.50" x2="1060.25" y2="798.46" stroke="#ebebeb" stroke-width="0.95"/>
<line x1="1142.07" y1="739.50" x2="1142.07" y2="798.46" stroke="#ebebeb" stroke-width="0.95"/>
<line x1="1223.89" y1="739.50" x2="1223.89" y2="798.46" stroke="#ebebeb" stroke-width="0.95"/>
<line x1="1305.71" y1="739.50" x2="1305.71" y2="798.46" stroke="#ebebeb" stroke-width="0.95"/>
<line x1="1101.16" y1="739.50" x2="1101.16" y2="798.46" stroke="#ebebeb" stroke-width="1.8"/>
<line x1="1182.98" y1="739.50" x2="1182.98" y2="798.46" stroke="#ebebeb" stroke-width="1.8"/>
<line x1="1264.80" y1="739.50" x2="1264.80" y2="798.46" stroke="#ebebeb" stroke-width="1.8"/>
<line x1="1060.25" y1="809.46" x2="1060.25" y2="849.99" stroke="#ebebeb" stroke-width="0.95"/>
<line x1="1142.07" y1="809.46" x2="1142.07" y2="849.99" stroke="#ebebeb" stroke-width="0.95"/>
<line x1="1223.89" y1="809.46" x2="1223.89" y2="849.99" stroke="#ebebeb" stroke-width="0.95"/>
<line x1="1305.71" y1="809.46" x2="1305.71" y2="849.99" stroke="#ebebeb" stroke-width="0.95"/>
<line x1="1101.16" y1="809.46" x2="1101.16" y2="849.99" stroke="#ebebeb" stroke-width="1.8"/>
<line x1="1182.98" y1="809.46" x2="1182.98" y2="849.99" stroke="#ebebeb" stroke-width="1.8"/>
<line x1="1264.80" y1="809.46" x2="1264.80" y2="849.99" stroke="#ebebeb" stroke-width="1.8"/>
<line x1="1060.25" y1="860.99" x2="1060.25" y2="919.94" stroke="#ebebeb" stroke-width="0.95"/>
<line x1="1142.07" y1="860.99" x2="1142.07" y2="919.94" stroke="#ebebeb" stroke-width="0.95"/>
<line x1="1223.89" y1="860.99" x2="1223.89" y2="919.94" stroke="#ebebeb" stroke-width="0.95"/>
<line x1="1305.71" y1="860.99" x2="1305.71" y2="919.94" stroke="#ebebeb" stroke-width="0.95"/>
<line x1="1101.16" y1="860.99" x2="1101.16" y2="919.94" stroke="#ebebeb" stroke-width="1.8"/>
<line x1="1182.98" y1="860.99" x2="1182.98" y2="919.94" stroke="#ebebeb" stroke-width="1.8"/>
<line x1="1264.80" y1="860.99" x2="1264.80" y2="919.94" stroke="#ebebeb" stroke-width="1.8"/>
<line x1="1060.25" y1="930.94" x2="1060.25" y2="953.05" stroke="#ebebeb" stroke-width="0.95"/>
<line x1="1142.07" y1="930.94" x2="1142.07" y2="953.05" stroke="#ebebeb" stroke-width="0.95"/>
<line x1="1223.89" y1="930.94" x2="1223.89" y2="953.05" stroke="#ebebeb" stroke-width="0.95"/>
<line x1="1305.71" y1="930.94" x2="1305.71" y2="953.05" stroke="#ebebeb" stroke-width="0.95"/>
<line x1="1101.16" y1="930.94" x2="1101.16" y2="953.05" stroke="#ebebeb" stroke-width="1.8"/>
<line x1="1182.98" y1="930.94" x2="1182.98" y2="953.05" stroke="#ebebeb" stroke-width="1.8"/>
<line x1="1264.80" y1="930.94" x2="1264.80" y2="953.05" stroke="#ebebeb" stroke-width="1.8"/>
<line x1="1060.25" y1="964.05" x2="1060.25" y2="1023.00" stroke="#ebebeb" stroke-width="0.95"/>
<line x1="1142.07" y1="964.05" x2="1142.07" y2="1023.00" stroke="#ebebeb" stroke-width="0.95"/>
<line x1="1223.89" y1="964.05" x2="1223.89" y2="1023.00" stroke="#ebebeb" stroke-width="0.95"/>
<line x1="1305.71" y1="964.05" x2="1305.71" y2="1023.00" stroke="#ebebeb" stroke-width="0.95"/>
<line x1="1101.16" y1="964.05" x2="1101.16" y2="1023.00" stroke="#ebebeb" stroke-width="1.8"/>
<line x1="1182.98" y1="964.05" x2="1182.98" y2="1023.00" stroke="#ebebeb" stroke-width="1.8"/>
<line x1="1264.80" y1="964.05" x2="1264.80" y2="1023.00" stroke="#ebebeb" stroke-width="1.8"/>
<line x1="1060.25" y1="1034.00" x2="1060.25" y2="1092.96" stroke="#ebebeb" stroke-width="0.95"/>
<line x1="1142.07" y1="1034.00" x2="1142.07" y2="1092.96" stroke="#ebebeb" stroke-width="0.95"/>
<line x1="1223.89" y1="1034.00" x2="1223.89" y2="1092.96" stroke="#ebebeb" stroke-width="0.95"/>
<line x1="1305.71" y1="1034.00" x2="1305.71" y2="1092.96" stroke="#ebebeb" stroke-width="0.95"/>
<line x1="1101.16" y1="1034.00" x2="1101.16" y2="1092.96" stroke="#ebebeb" stroke-width="1.8"/>
<line x1="1182.98" y1="1034.00" x2="1182.98" y2="1092.96" stroke="#ebebeb" stroke-width="1.8"/>
<line x1="1264.80" y1="1034.00" x2="1264.80" y2="1092.96" stroke="#ebebeb" stroke-width="1.8"/>
<line x1="1060.25" y1="1103.96" x2="1060.25" y2="1126.07" stroke="#ebebeb" stroke-width="0.95"/>
<line x1="1142.07" y1="1103.96" x2="1142.07" y2="1126.07" stroke="#ebebeb" stroke-width="0.95"/>
<line x1="1223.89" y1="1103.96" x2="1223.89" y2="1126.07" stroke="#ebebeb" stroke-width="0.95"/>
<line x1="1305.71" y1="1103.96" x2="1305.71" y2="1126.07" stroke="#ebebeb" stroke-width="0.95"/>
<line x1="1101.16" y1="1103.96" x2="1101.16" y2="1126.07" stroke="#ebebeb" stroke-width="1.8"/>
<line x1="1182.98" y1="1103.96" x2="1182.98" y2="1126.07" stroke="#ebebeb" stroke-width="1.8"/>
<line x1="1264.80" y1="1103.96" x2="1264.80" y2="1126.07" stroke="#ebebeb" stroke-width="1.8"/>
<line x1="1341.16" y1="39.70" x2="1341.16" y2="80.23" stroke="#ebebeb" stroke-width="0.95"/>
<line x1="1422.98" y1="39.70" x2="1422.98" y2="80.23" stroke="#ebebeb" stroke-width="0.95"/>
<line x1="1504.79" y1="39.70" x2="1504.79" y2="80.23" stroke="#ebebeb" stroke-width="0.95"/>
<line x1="1586.61" y1="39.70" x2="1586.61" y2="80.23" stroke="#ebebeb" stroke-width="0.95"/>
<line x1="1382.07" y1="39.70" x2="1382.07" y2="80.23" stroke="#ebebeb" stroke-width="1.8"/>
<line x1="1463.88" y1="39.70" x2="1463.88" y2="80.23" stroke="#ebebeb" stroke-width="1.8"/>
<line x1="1545.70" y1="39.70" x2="1545.70" y2="80.23" stroke="#ebebeb" stroke-width="1.8"/>
<line x1="1341.16" y1="91.23" x2="1341.16" y2="371.26" stroke="#ebebeb" stroke-width="0.95"/>
<line x1="1422.98" y1="91.23" x2="1422.98" y2="371.26" stroke="#ebebeb" stroke-width="0.95"/>
<line x1="1504.79" y1="91.23" x2="1504.79" y2="371.26" stroke="#ebebeb" stroke-width="0.95"/>
<line x1="1586.61" y1="91.23" x2="1586.61" y2="371.26" stroke="#ebebeb" stroke-width="0.95"/>
<line x1="1382.07" y1="91.23" x2="1382.07" y2="371.26" stroke="#ebebeb" stroke-width="1.8"/>
<line x1="1463.88" y1="91.23" x2="1463.88" y2="371.26" stroke="#ebebeb" stroke-width="1.8"/>
<line x1="1545.70" y1="91.23" x2="1545.70" y2="371.26" stroke="#ebebeb" stroke-width="1.8"/>
<line x1="1341.16" y1="382.26" x2="1341.16" y2="514.91" stroke="#ebebeb" stroke-width="0.95"/>
<line x1="1422.98" y1="382.26" x2="1422.98" y2="514.91" stroke="#ebebeb" stroke-width="0.95"/>
<line x1="1504.79" y1="382.26" x2="1504.79" y2="514.91" stroke="#ebebeb" stroke-width="0.95"/>
<line x1="1586.61" y1="382.26" x2="1586.61" y2="514.91" stroke="#ebebeb" stroke-width="0.95"/>
<line x1="1382.07" y1="382.26" x2="1382.07" y2="514.91" stroke="#ebebeb" stroke-width="1.8"/>
<line x1="1463.88" y1="382.26" x2="1463.88" y2="514.91" stroke="#ebebeb" stroke-width="1.8"/>
<line x1="1545.70" y1="382.26" x2="1545.70" y2="514.91" stroke="#ebebeb" stroke-width="1.8"/>
<line x1="1341.16" y1="525.91" x2="1341.16" y2="603.28" stroke="#ebebeb" stroke-width="0.95"/>
<line x1="1422.98" y1="525.91" x2="1422.98" y2="603.28" stroke="#ebebeb" stroke-width="0.95"/>
<line x1="1504.79" y1="525.91" x2="1504.79" y2="603.28" stroke="#ebebeb" stroke-width="0.95"/>
<line x1="1586.61" y1="525.91" x2="1586.61" y2="603.28" stroke="#ebebeb" stroke-width="0.95"/>
<line x1="1382.07" y1="525.91" x2="1382.07" y2="603.28" stroke="#ebebeb" stroke-width="1.8"/>
<line x1="1463.88" y1="525.91" x2="1463.88" y2="603.28" stroke="#ebebeb" stroke-width="1.8"/>
<line x1="1545.70" y1="525.91" x2="1545.70" y2="603.28" stroke="#ebebeb" stroke-width="1.8"/>
<line x1="1341.16" y1="614.28" x2="1341.16" y2="728.50" stroke="#ebebeb" stroke-width="0.95"/>
<line x1="1422.98" y1="614.28" x2="1422.98" y2="728.50" stroke="#ebebeb" stroke-width="0.95"/>
<line x1="1504.79" y1="614.28" x2="1504.79" y2="728.50" stroke="#ebebeb" stroke-width="0.95"/>
<line x1="1586.61" y1="614.28" x2="1586.61" y2="728.50" stroke="#ebebeb" stroke-width="0.95"/>
<line x1="1382.07" y1="614.28" x2="1382.07" y2="728.50" stroke="#ebebeb" stroke-width="1.8"/>
<line x1="1463.88" y1="614.28" x2="1463.88" y2="728.50" stroke="#ebebeb" stroke-width="1.8"/>
<line x1="1545.70" y1="614.28" x2="1545.70" y2="728.50" stroke="#ebebeb" stroke-width="1.8"/>
<line x1="1341.16" y1="739.50" x2="1341.16" y2="798.46" stroke="#ebebeb" stroke-width="0.95"/>
<line x1="1422.98" y1="739.50" x2="1422.98" y2="798.46" stroke="#ebebeb" stroke-width="0.95"/>
<line x1="1504.79" y1="739.50" x2="1504.79" y2="798.46" stroke="#ebebeb" stroke-width="0.95"/>
<line x1="1586.61" y1="739.50" x2="1586.61" y2="798.46" stroke="#ebebeb" stroke-width="0.95"/>
<line x1="1382.07" y1="739.50" x2="1382.07" y2="798.46" stroke="#ebebeb" stroke-width="1.8"/>
<line x1="1463.88" y1="739.50" x2="1463.88" y2="798.46" stroke="#ebebeb" stroke-width="1.8"/>
<line x1="1545.70" y1="739.50" x2="1545.70" y2="798.46" stroke="#ebebeb" stroke-width="1.8"/>
<line x1="1341.16" y1="809.46" x2="1341.16" y2="849.99" stroke="#ebebeb" stroke-width="0.95"/>
<line x1="1422.98" y1="809.46" x2="1422.98" y2="849.99" stroke="#ebebeb" stroke-width="0.95"/>
<line x1="1504.79" y1="809.46" x2="1504.79" y2="849.99" stroke="#ebebeb" stroke-width="0.95"/>
<line x1="1586.61" y1="809.46" x2="1586.61" y2="849.99" stroke="#ebebeb" stroke-width="0.95"/>
<line x1="1382.07" y1="809.46" x2="1382.07" y2="849.99" stroke="#ebebeb" stroke-width="1.8"/>
<line x1="1463.88" y1="809.46" x2="1463.88" y2="849.99" stroke="#ebebeb" stroke-width="1.8"/>
<line x1="1545.70" y1="809.46" x2="1545.70" y2="849.99" stroke="#ebebeb" stroke-width="1.8"/>
<line x1="1341.16" y1="860.99" x2="1341.16" y2="919.94" stroke="#ebebeb" stroke-width="0.95"/>
<line x1="1422.98" y1="860.99" x2="1422.98" y2="919.94" stroke="#ebebeb" stroke-width="0.95"/>
<line x1="1504.79" y1="860.99" x2="1504.79" y2="919.94" stroke="#ebebeb" stroke-width="0.95"/>
<line x1="1586.61" y1="860.99" x2="1586.61" y2="919.94" stroke="#ebebeb" stroke-width="0.95"/>
<line x1="1382.07" y1="860.99" x2="1382.07" y2="919.94" stroke="#ebebeb" stroke-width="1.8"/>
<line x1="1463.88" y1="860.99" x2="1463.88" y2="919.94" stroke="#ebebeb" stroke-width="1.8"/>
<line x1="1545.70" y1="860.99" x2="1545.70" y2="919.94" stroke="#ebebeb" stroke-width="1.8"/>
<line x1="1341.16" y1="930.94" x2="1341.16" y2="953.05" stroke="#ebebeb" stroke-width="0.95"/>
<line x1="1422.98" y1="930.94" x2="1422.98" y2="953.05" stroke="#ebebeb" stroke-width="0.95"/>
<line x1="1504.79" y1="930.94" x2="1504.79" y2="953.05" stroke="#ebebeb" stroke-width="0.95"/>
<line x1="1586.61" y1="930.94" x2="1586.61" y2="953.05" stroke="#ebebeb" stroke-width="0.95"/>
<line x1="1382.07" y1="930.94" x2="1382.07" y2="953.05" stroke="#ebebeb" stroke-width="1.8"/>
<line x1="1463.88" y1="930.94" x2="1463.88" y2="953.05" stroke="#ebebeb" stroke-width="1.8"/>
<line x1="1545.70" y1="930.94" x2="1545.70" y2="953.05" stroke="#ebebeb" stroke-width="1.8"/>
<line x1="1341.16" y1="964.05" x2="1341.16" y2="1023.00" stroke="#ebebeb" stroke-width="0.95"/>
<line x1="1422.98" y1="964.05" x2="1422.98" y2="1023.00" stroke="#ebebeb" stroke-width="0.95"/>
<line x1="1504.79" y1="964.05" x2="1504.79" y2="1023.00" stroke="#ebebeb" stroke-width="0.95"/>
<line x1="1586.61" y1="964.05" x2="1586.61" y2="1023.00" stroke="#ebebeb" stroke-width="0.95"/>
<line x1="1382.07" y1="964.05" x2="1382.07" y2="1023.00" stroke="#ebebeb" stroke-width="1.8"/>
<line x1="1463.88" y1="964.05" x2="1463.88" y2="1023.00" stroke="#ebebeb" stroke-width="1.8"/>
<line x1="1545.70" y1="964.05" x2="1545.70" y2="1023.00" stroke="#ebebeb" stroke-width="1.8"/>
<line x1="1341.16" y1="1034.00" x2="1341.16" y2="1092.96" stroke="#ebebeb" stroke-width="0.95"/>
<line x1="1422.98" y1="1034.00" x2="1422.98" y2="1092.96" stroke="#ebebeb" stroke-width="0.95"/>
<line x1="1504.79" y1="1034.00" x2="1504.79" y2="1092.96" stroke="#ebebeb" stroke-width="0.95"/>
<line x1="1586.61" y1="1034.00" x2="1586.61" y2="1092.96" stroke="#ebebeb" stroke-width="0.95"/>
<line x1="1382.07" y1="1034.00" x2="1382.07" y2="1092.96" stroke="#ebebeb" stroke-width="1.8"/>
<line x1="1463.88" y1="1034.00" x2="1463.88" y2="1092.96" stroke="#ebebeb" stroke-width="1.8"/>
<line x1="1545.70" y1="1034.00" x2="1545.70" y2="1092.96" stroke="#ebebeb" stroke-width="1.8"/>
<line x1="1341.16" y1="1103.96" x2="1341.16" y2="1126.07" stroke="#ebebeb" stroke-width="0.95"/>
<line x1="1422.98" y1="1103.96" x2="1422.98" y2="1126.07" stroke="#ebebeb" stroke-width="0.95"/>
<line x1="1504.79" y1="1103.96" x2="1504.79" y2="1126.07" stroke="#ebebeb" stroke-width="0.95"/>
<line x1="1586.61" y1="1103.96" x2="1586.61" y2="1126.07" stroke="#ebebeb" stroke-width="0.95"/>
<line x1="1382.07" y1="1103.96" x2="1382.07" y2="1126.07" stroke="#ebebeb" stroke-width="1.8"/>
<line x1="1463.88" y1="1103.96" x2="1463.88" y2="1126.07" stroke="#ebebeb" stroke-width="1.8"/>
<line x1="1545.70" y1="1103.96" x2="1545.70" y2="1126.07" stroke="#ebebeb" stroke-width="1.8"/>
<line x1="1622.15" y1="39.70" x2="1622.15" y2="80.23" stroke="#ebebeb" stroke-width="0.95"/>
<line x1="1703.96" y1="39.70" x2="1703.96" y2="80.23" stroke="#ebebeb" stroke-width="0.95"/>
<line x1="1785.78" y1="39.70" x2="1785.78" y2="80.23" stroke="#ebebeb" stroke-width="0.95"/>
<line x1="1867.60" y1="39.70" x2="1867.60" y2="80.23" stroke="#ebebeb" stroke-width="0.95"/>
<line x1="1663.05" y1="39.70" x2="1663.05" y2="80.23" stroke="#ebebeb" stroke-width="1.8"/>
<line x1="1744.87" y1="39.70" x2="1744.87" y2="80.23" stroke="#ebebeb" stroke-width="1.8"/>
<line x1="1826.69" y1="39.70" x2="1826.69" y2="80.23" stroke="#ebebeb" stroke-width="1.8"/>
<line x1="1622.15" y1="91.23" x2="1622.15" y2="371.26" stroke="#ebebeb" stroke-width="0.95"/>
<line x1="1703.96" y1="91.23" x2="1703.96" y2="371.26" stroke="#ebebeb" stroke-width="0.95"/>
<line x1="1785.78" y1="91.23" x2="1785.78" y2="371.26" stroke="#ebebeb" stroke-width="0.95"/>
<line x1="1867.60" y1="91.23" x2="1867.60" y2="371.26" stroke="#ebebeb" stroke-width="0.95"/>
<line x1="1663.05" y1="91.23" x2="1663.05" y2="371.26" stroke="#ebebeb" stroke-width="1.8"/>
<line x1="1744.87" y1="91.23" x2="1744.87" y2="371.26" stroke="#ebebeb" stroke-width="1.8"/>
<line x1="1826.69" y1="91.23" x2="1826.69" y2="371.26" stroke="#ebebeb" stroke-width="1.8"/>
<line x1="1622.15" y1="382.26" x2="1622.15" y2="514.91" stroke="#ebebeb" stroke-width="0.95"/>
<line x1="1703.96" y1="382.26" x2="1703.96" y2="514.91" stroke="#ebebeb" stroke-width="0.95"/>
<line x1="1785.78" y1="382.26" x2="1785.78" y2="514.91" stroke="#ebebeb" stroke-width="0.95"/>
<line x1="1867.60" y1="382.26" x2="1867.60" y2="514.91" stroke="#ebebeb" stroke-width="0.95"/>
<line x1="1663.05" y1="382.26" x2="1663.05" y2="514.91" stroke="#ebebeb" stroke-width="1.8"/>
<line x1="1744.87" y1="382.26" x2="1744.87" y2="514.91" stroke="#ebebeb" stroke-width="1.8"/>
<line x1="1826.69" y1="382.26" x2="1826.69" y2="514.91" stroke="#ebebeb" stroke-width="1.8"/>
<line x1="1622.15" y1="525.91" x2="1622.15" y2="603.28" stroke="#ebebeb" stroke-width="0.95"/>
<line x1="1703.96" y1="525.91" x2="1703.96" y2="603.28" stroke="#ebebeb" stroke-width="0.95"/>
<line x1="1785.78" y1="525.91" x2="1785.78" y2="603.28" stroke="#ebebeb" stroke-width="0.95"/>
<line x1="1867.60" y1="525.91" x2="1867.60" y2="603.28" stroke="#ebebeb" stroke-width="0.95"/>
<line x1="1663.05" y1="525.91" x2="1663.05" y2="603.28" stroke="#ebebeb" stroke-width="1.8"/>
<line x1="1744.87" y1="525.91" x2="1744.87" y2="603.28" stroke="#ebebeb" stroke-width="1.8"/>
<line x1="1826.69" y1="525.91" x2="1826.69" y2="603.28" stroke="#ebebeb" stroke-width="1.8"/>
<line x1="1622.15" y1="614.28" x2="1622.15" y2="728.50" stroke="#ebebeb" stroke-width="0.95"/>
<line x1="1703.96" y1="614.28" x2="1703.96" y2="728.50" stroke="#ebebeb" stroke-width="0.95"/>
<line x1="1785.78" y1="614.28" x2="1785.78" y2="728.50" stroke="#ebebeb" stroke-width="0.95"/>
<line x1="1867.60" y1="614.28" x2="1867.60" y2="728.50" stroke="#ebebeb" stroke-width="0.95"/>
<line x1="1663.05" y1="614.28" x2="1663.05" y2="728.50" stroke="#ebebeb" stroke-width="1.8"/>
<line x1="1744.87" y1="614.28" x2="1744.87" y2="728.50" stroke="#ebebeb" stroke-width="1.8"/>
<line x1="1826.69" y1="614.28" x2="1826.69" y2="728.50" stroke="#ebebeb" stroke-width="1.8"/>
<line x1="1622.15" y1="739.50" x2="1622.15" y2="798.46" stroke="#ebebeb" stroke-width="0.95"/>
<line x1="1703.96" y1="739.50" x2="1703.96" y2="798.46" stroke="#ebebeb" stroke-width="0.95"/>
<line x1="1785.78" y1="739.50" x2="1785.78" y2="798.46" stroke="#ebebeb" stroke-width="0.95"/>
<line x1="1867.60" y1="739.50" x2="1867.60" y2="798.46" stroke="#ebebeb" stroke-width="0.95"/>
<line x1="1663.05" y1="739.50" x2="1663.05" y2="798.46" stroke="#ebebeb" stroke-width="1.8"/>
<line x1="1744.87" y1="739.50" x2="1744.87" y2="798.46" stroke="#ebebeb" stroke-width="1.8"/>
<line x1="1826.69" y1="739.50" x2="1826.69" y2="798.46" stroke="#ebebeb" stroke-width="1.8"/>
<line x1="1622.15" y1="809.46" x2="1622.15" y2="849.99" stroke="#ebebeb" stroke-width="0.95"/>
<line x1="1703.96" y1="809.46" x2="1703.96" y2="849.99" stroke="#ebebeb" stroke-width="0.95"/>
<line x1="1785.78" y1="809.46" x2="1785.78" y2="849.99" stroke="#ebebeb" stroke-width="0.95"/>
<line x1="1867.60" y1="809.46" x2="1867.60" y2="849.99" stroke="#ebebeb" stroke-width="0.95"/>
<line x1="1663.05" y1="809.46" x2="1663.05" y2="849.99" stroke="#ebebeb" stroke-width="1.8"/>
<line x1="1744.87" y1="809.46" x2="1744.87" y2="849.99" stroke="#ebebeb" stroke-width="1.8"/>
<line x1="1826.69" y1="809.46" x2="1826.69" y2="849.99" stroke="#ebebeb" stroke-width="1.8"/>
<line x1="1622.15" y1="860.99" x2="1622.15" y2="919.94" stroke="#ebebeb" stroke-width="0.95"/>
<line x1="1703.96" y1="860.99" x2="1703.96" y2="919.94" stroke="#ebebeb" stroke-width="0.95"/>
<line x1="1785.78" y1="860.99" x2="1785.78" y2="919.94" stroke="#ebebeb" stroke-width="0.95"/>
<line x1="1867.60" y1="860.99" x2="1867.60" y2="919.94" stroke="#ebebeb" stroke-width="0.95"/>
<line x1="1663.05" y1="860.99" x2="1663.05" y2="919.94" stroke="#ebebeb" stroke-width="1.8"/>
<line x1="1744.87" y1="860.99" x2="1744.87" y2="919.94" stroke="#ebebeb" stroke-width="1.8"/>
<line x1="1826.69" y1="860.99" x2="1826.69" y2="919.94" stroke="#ebebeb" stroke-width="1.8"/>
<line x1="1622.15" y1="930.94" x2="1622.15" y2="953.05" stroke="#ebebeb" stroke-width="0.95"/>
<line x1="1703.96" y1="930.94" x2="1703.96" y2="953.05" stroke="#ebebeb" stroke-width="0.95"/>
<line x1="1785.78" y1="930.94" x2="1785.78" y2="953.05" stroke="#ebebeb" stroke-width="0.95"/>
<line x1="1867.60" y1="930.94" x2="1867.60" y2="953.05" stroke="#ebebeb" stroke-width="0.95"/>
<line x1="1663.05" y1="930.94" x2="1663.05" y2="953.05" stroke="#ebebeb" stroke-width="1.8"/>
<line x1="1744.87" y1="930.94" x2="1744.87" y2="953.05" stroke="#ebebeb" stroke-width="1.8"/>
<line x1="1826.69" y1="930.94" x2="1826.69" y2="953.05" stroke="#ebebeb" stroke-width="1.8"/>
<line x1="1622.15" y1="964.05" x2="1622.15" y2="1023.00" stroke="#ebebeb" stroke-width="0.95"/>
<line x1="1703.96" y1="964.05" x2="1703.96" y2="1023.00" stroke="#ebebeb" stroke-width="0.95"/>
<line x1="1785.78" y1="964.05" x2="1785.78" y2="1023.00" stroke="#ebebeb" stroke-width="0.95"/>
<line x1="1867.60" y1="964.05" x2="1867.60" y2="1023.00" stroke="#ebebeb" stroke-width="0.95"/>
<line x1="1663.05" y1="964.05" x2="1663.05" y2="1023.00" stroke="#ebebeb" stroke-width="1.8"/>
<line x1="1744.87" y1="964.05" x2="1744.87" y2="1023.00" stroke="#ebebeb" stroke-width="1.8"/>
<line x1="1826.69" y1="964.05" x2="1826.69" y2="1023.00" stroke="#ebebeb" stroke-width="1.8"/>
<line x1="1622.15" y1="1034.00" x2="1622.15" y2="1092.96" stroke="#ebebeb" stroke-width="0.95"/>
<line x1="1703.96" y1="1034.00" x2="1703.96" y2="1092.96" stroke="#ebebeb" stroke-width="0.95"/>
<line x1="1785.78" y1="1034.00" x2="1785.78" y2="1092.96" stroke="#ebebeb" stroke-width="0.95"/>
<line x1="1867.60" y1="1034.00" x2="1867.60" y2="1092.96" stroke="#ebebeb" stroke-width="0.95"/>
<line x1="1663.05" y1="1034.00" x2="1663.05" y2="1092.96" stroke="#ebebeb" stroke-width="1.8"/>
<line x1="1744.87" y1="1034.00" x2="1744.87" y2="1092.96" stroke="#ebebeb" stroke-width="1.8"/>
<line x1="1826.69" y1="1034.00" x2="1826.69" y2="1092.96" stroke="#ebebeb" stroke-width="1.8"/>
<line x1="1622.15" y1="1103.96" x2="1622.15" y2="1126.07" stroke="#ebebeb" stroke-width="0.95"/>
<line x1="1703.96" y1="1103.96" x2="1703.96" y2="1126.07" stroke="#ebebeb" stroke-width="0.95"/>
<line x1="1785.78" y1="1103.96" x2="1785.78" y2="1126.07" stroke="#ebebeb" stroke-width="0.95"/>
<line x1="1867.60" y1="1103.96" x2="1867.60" y2="1126.07" stroke="#ebebeb" stroke-width="0.95"/>
<line x1="1663.05" y1="1103.96" x2="1663.05" y2="1126.07" stroke="#ebebeb" stroke-width="1.8"/>
<line x1="1744.87" y1="1103.96" x2="1744.87" y2="1126.07" stroke="#ebebeb" stroke-width="1.8"/>
<line x1="1826.69" y1="1103.96" x2="1826.69" y2="1126.07" stroke="#ebebeb" stroke-width="1.8"/>
<rect x="221.26" y="42.38" width="7.79" height="16.74" fill="#3990c1"/>
<rect x="229.05" y="42.38" width="12.09" height="16.74" fill="#06507d"/>
<rect x="496.78" y="42.38" width="13.32" height="16.74" fill="#3990c1"/>
<rect x="510.10" y="42.38" width="28.07" height="16.74" fill="#06507d"/>
<rect x="769.19" y="42.38" width="21.73" height="16.74" fill="#3990c1"/>
<rect x="790.92" y="42.38" width="33.59" height="16.74" fill="#06507d"/>
<rect x="1101.16" y="42.38" width="2.20" height="16.74" fill="#fd8d3c"/>
<rect x="1103.36" y="42.38" width="0.88" height="16.74" fill="#bd0026"/>
<rect x="1382.07" y="42.38" width="4.88" height="16.74" fill="#fd8d3c"/>
<rect x="1386.94" y="42.38" width="1.71" height="16.74" fill="#bd0026"/>
<rect x="1663.05" y="42.38" width="11.22" height="16.74" fill="#fd8d3c"/>
<rect x="1674.27" y="42.38" width="2.93" height="16.74" fill="#bd0026"/>
<rect x="223.93" y="60.81" width="5.12" height="16.74" fill="#3990c1"/>
<rect x="229.05" y="60.81" width="13.11" height="16.74" fill="#06507d"/>
<rect x="500.88" y="60.81" width="9.22" height="16.74" fill="#3990c1"/>
<rect x="510.10" y="60.81" width="29.71" height="16.74" fill="#06507d"/>
<rect x="775.34" y="60.81" width="15.59" height="16.74" fill="#3990c1"/>
<rect x="790.92" y="60.81" width="40.39" height="16.74" fill="#06507d"/>
<rect x="1101.16" y="60.81" width="2.85" height="16.74" fill="#fd8d3c"/>
<rect x="1104.02" y="60.81" width="1.10" height="16.74" fill="#bd0026"/>
<rect x="1382.07" y="60.81" width="6.59" height="16.74" fill="#fd8d3c"/>
<rect x="1388.65" y="60.81" width="2.44" height="16.74" fill="#bd0026"/>
<rect x="1663.05" y="60.81" width="15.85" height="16.74" fill="#fd8d3c"/>
<rect x="1678.91" y="60.81" width="3.90" height="16.74" fill="#bd0026"/>
<rect x="213.07" y="93.91" width="2.87" height="16.74" fill="#06507d"/>
<rect x="215.94" y="93.91" width="13.11" height="16.74" fill="#3990c1"/>
<rect x="489.20" y="93.91" width="20.90" height="16.74" fill="#3990c1"/>
<rect x="510.10" y="93.91" width="2.66" height="16.74" fill="#06507d"/>
<rect x="749.66" y="93.91" width="41.27" height="16.74" fill="#3990c1"/>
<rect x="790.92" y="93.91" width="5.27" height="16.74" fill="#06507d"/>
<rect x="1101.16" y="93.91" width="3.51" height="16.74" fill="#fd8d3c"/>
<rect x="1104.68" y="93.91" width="0.22" height="16.74" fill="#bd0026"/>
<rect x="1382.07" y="93.91" width="7.07" height="16.74" fill="#fd8d3c"/>
<rect x="1389.14" y="93.91" width="1.22" height="16.74" fill="#bd0026"/>
<rect x="1663.05" y="93.91" width="17.56" height="16.74" fill="#fd8d3c"/>
<rect x="1680.62" y="93.91" width="2.44" height="16.74" fill="#bd0026"/>
<rect x="213.89" y="112.34" width="15.16" height="16.74" fill="#3990c1"/>
<rect x="229.05" y="112.34" width="2.87" height="16.74" fill="#06507d"/>
<rect x="487.15" y="112.34" width="22.95" height="16.74" fill="#3990c1"/>
<rect x="510.10" y="112.34" width="5.74" height="16.74" fill="#06507d"/>
<rect x="758.22" y="112.34" width="32.71" height="16.74" fill="#3990c1"/>
<rect x="790.92" y="112.34" width="1.98" height="16.74" fill="#06507d"/>
<rect x="1101.16" y="112.34" width="9.66" height="16.74" fill="#fd8d3c"/>
<rect x="1110.82" y="112.34" width="1.32" height="16.74" fill="#bd0026"/>
<rect x="1382.07" y="112.34" width="21.46" height="16.74" fill="#fd8d3c"/>
<rect x="1403.53" y="112.34" width="4.15" height="16.74" fill="#bd0026"/>
<rect x="1663.05" y="112.34" width="58.05" height="16.74" fill="#fd8d3c"/>
<rect x="1721.10" y="112.34" width="8.54" height="16.74" fill="#bd0026"/>
<rect x="214.30" y="130.76" width="14.75" height="16.74" fill="#3990c1"/>
<rect x="229.05" y="130.76" width="8.81" height="16.74" fill="#06507d"/>
<rect x="486.13" y="130.76" width="23.97" height="16.74" fill="#3990c1"/>
<rect x="510.10" y="130.76" width="16.80" height="16.74" fill="#06507d"/>
<rect x="754.26" y="130.76" width="36.66" height="16.74" fill="#3990c1"/>
<rect x="790.92" y="130.76" width="21.95" height="16.74" fill="#06507d"/>
<rect x="1101.16" y="130.76" width="2.85" height="16.74" fill="#fd8d3c"/>
<rect x="1104.02" y="130.76" width="0.66" height="16.74" fill="#bd0026"/>
<rect x="1382.07" y="130.76" width="8.29" height="16.74" fill="#fd8d3c"/>
<rect x="1390.36" y="130.76" width="2.20" height="16.74" fill="#bd0026"/>
<rect x="1663.05" y="130.76" width="27.07" height="16.74" fill="#fd8d3c"/>
<rect x="1690.13" y="130.76" width="7.32" height="16.74" fill="#bd0026"/>
<rect x="218.19" y="149.18" width="10.86" height="16.74" fill="#3990c1"/>
<rect x="229.05" y="149.18" width="19.87" height="16.74" fill="#06507d"/>
<rect x="490.84" y="149.18" width="19.26" height="16.74" fill="#3990c1"/>
<rect x="510.10" y="149.18" width="38.72" height="16.74" fill="#06507d"/>
<rect x="757.12" y="149.18" width="33.80" height="16.74" fill="#3990c1"/>
<rect x="790.92" y="149.18" width="59.71" height="16.74" fill="#06507d"/>
<rect x="1101.16" y="149.18" width="9.88" height="16.74" fill="#fd8d3c"/>
<rect x="1111.04" y="149.18" width="3.07" height="16.74" fill="#bd0026"/>
<rect x="1382.07" y="149.18" width="20.00" height="16.74" fill="#fd8d3c"/>
<rect x="1402.07" y="149.18" width="7.32" height="16.74" fill="#bd0026"/>
<rect x="1663.05" y="149.18" width="45.85" height="16.74" fill="#fd8d3c"/>
<rect x="1708.91" y="149.18" width="16.10" height="16.74" fill="#bd0026"/>
<rect x="211.23" y="167.61" width="17.82" height="16.74" fill="#3990c1"/>
<rect x="229.05" y="167.61" width="6.76" height="16.74" fill="#06507d"/>
<rect x="485.10" y="167.61" width="25.00" height="16.74" fill="#3990c1"/>
<rect x="510.10" y="167.61" width="12.70" height="16.74" fill="#06507d"/>
<rect x="758.44" y="167.61" width="32.49" height="16.74" fill="#3990c1"/>
<rect x="790.92" y="167.61" width="19.10" height="16.74" fill="#06507d"/>
<rect x="1101.16" y="167.61" width="9.22" height="16.74" fill="#fd8d3c"/>
<rect x="1110.38" y="167.61" width="2.63" height="16.74" fill="#bd0026"/>
<rect x="1382.07" y="167.61" width="22.20" height="16.74" fill="#fd8d3c"/>
<rect x="1404.26" y="167.61" width="7.56" height="16.74" fill="#bd0026"/>
<rect x="1663.05" y="167.61" width="64.15" height="16.74" fill="#fd8d3c"/>
<rect x="1727.20" y="167.61" width="19.51" height="16.74" fill="#bd0026"/>
<rect x="211.23" y="186.03" width="17.82" height="16.74" fill="#3990c1"/>
<rect x="229.05" y="186.03" width="14.96" height="16.74" fill="#06507d"/>
<rect x="479.16" y="186.03" width="30.94" height="16.74" fill="#3990c1"/>
<rect x="510.10" y="186.03" width="30.73" height="16.74" fill="#06507d"/>
<rect x="742.19" y="186.03" width="48.73" height="16.74" fill="#3990c1"/>
<rect x="790.92" y="186.03" width="41.05" height="16.74" fill="#06507d"/>
<rect x="1101.16" y="186.03" width="3.51" height="16.74" fill="#fd8d3c"/>
<rect x="1104.68" y="186.03" width="1.32" height="16.74" fill="#bd0026"/>
<rect x="1382.07" y="186.03" width="8.29" height="16.74" fill="#fd8d3c"/>
<rect x="1390.36" y="186.03" width="3.17" height="16.74" fill="#bd0026"/>
<rect x="1663.05" y="186.03" width="21.95" height="16.74" fill="#fd8d3c"/>
<rect x="1685.01" y="186.03" width="7.32" height="16.74" fill="#bd0026"/>
<rect x="215.12" y="204.45" width="13.93" height="16.74" fill="#3990c1"/>
<rect x="229.05" y="204.45" width="2.25" height="16.74" fill="#06507d"/>
<rect x="489.61" y="204.45" width="20.49" height="16.74" fill="#3990c1"/>
<rect x="510.10" y="204.45" width="5.74" height="16.74" fill="#06507d"/>
<rect x="763.48" y="204.45" width="27.44" height="16.74" fill="#3990c1"/>
<rect x="790.92" y="204.45" width="7.68" height="16.74" fill="#06507d"/>
<rect x="1101.16" y="204.45" width="13.17" height="16.74" fill="#fd8d3c"/>
<rect x="1114.33" y="204.45" width="1.54" height="16.74" fill="#bd0026"/>
<rect x="1382.07" y="204.45" width="30.98" height="16.74" fill="#fd8d3c"/>
<rect x="1413.04" y="204.45" width="5.37" height="16.74" fill="#bd0026"/>
<rect x="1663.05" y="204.45" width="85.85" height="16.74" fill="#fd8d3c"/>
<rect x="1748.91" y="204.45" width="10.98" height="16.74" fill="#bd0026"/>
<rect x="214.09" y="222.88" width="14.96" height="16.74" fill="#3990c1"/>
<rect x="229.05" y="222.88" width="6.76" height="16.74" fill="#06507d"/>
<rect x="484.90" y="222.88" width="25.20" height="16.74" fill="#3990c1"/>
<rect x="510.10" y="222.88" width="12.29" height="16.74" fill="#06507d"/>
<rect x="751.85" y="222.88" width="39.07" height="16.74" fill="#3990c1"/>
<rect x="790.92" y="222.88" width="20.20" height="16.74" fill="#06507d"/>
<rect x="1101.16" y="222.88" width="0.44" height="16.74" fill="#fd8d3c"/>
<rect x="1101.60" y="222.88" width="1.10" height="16.74" fill="#bd0026"/>
<rect x="1382.07" y="222.88" width="4.88" height="16.74" fill="#fd8d3c"/>
<rect x="1386.94" y="222.88" width="1.22" height="16.74" fill="#bd0026"/>
<rect x="1663.05" y="222.88" width="20.49" height="16.74" fill="#fd8d3c"/>
<rect x="1683.54" y="222.88" width="6.34" height="16.74" fill="#bd0026"/>
<rect x="211.84" y="241.30" width="17.21" height="16.74" fill="#3990c1"/>
<rect x="229.05" y="241.30" width="4.51" height="16.74" fill="#06507d"/>
<rect x="484.08" y="241.30" width="26.02" height="16.74" fill="#3990c1"/>
<rect x="510.10" y="241.30" width="9.63" height="16.74" fill="#06507d"/>
<rect x="755.14" y="241.30" width="35.78" height="16.74" fill="#3990c1"/>
<rect x="790.92" y="241.30" width="13.17" height="16.74" fill="#06507d"/>
<rect x="1101.16" y="241.30" width="10.76" height="16.74" fill="#fd8d3c"/>
<rect x="1111.92" y="241.30" width="1.76" height="16.74" fill="#bd0026"/>
<rect x="1382.07" y="241.30" width="24.15" height="16.74" fill="#fd8d3c"/>
<rect x="1406.21" y="241.30" width="5.61" height="16.74" fill="#bd0026"/>
<rect x="1663.05" y="241.30" width="65.85" height="16.74" fill="#fd8d3c"/>
<rect x="1728.91" y="241.30" width="11.95" height="16.74" fill="#bd0026"/>
<rect x="216.14" y="259.72" width="12.91" height="16.74" fill="#3990c1"/>
<rect x="229.05" y="259.72" width="5.94" height="16.74" fill="#06507d"/>
<rect x="493.50" y="259.72" width="16.60" height="16.74" fill="#3990c1"/>
<rect x="510.10" y="259.72" width="10.45" height="16.74" fill="#06507d"/>
<rect x="771.83" y="259.72" width="19.10" height="16.74" fill="#3990c1"/>
<rect x="790.92" y="259.72" width="13.61" height="16.74" fill="#06507d"/>
<rect x="1101.16" y="259.72" width="22.83" height="16.74" fill="#fd8d3c"/>
<rect x="1123.99" y="259.72" width="7.02" height="16.74" fill="#bd0026"/>
<rect x="1382.07" y="259.72" width="56.59" height="16.74" fill="#fd8d3c"/>
<rect x="1438.65" y="259.72" width="19.27" height="16.74" fill="#bd0026"/>
<rect x="1663.05" y="259.72" width="157.80" height="16.74" fill="#fd8d3c"/>
<rect x="1820.86" y="259.72" width="42.20" height="16.74" fill="#bd0026"/>
<rect x="220.24" y="278.14" width="8.81" height="16.74" fill="#3990c1"/>
<rect x="229.05" y="278.14" width="3.89" height="16.74" fill="#06507d"/>
<rect x="498.21" y="278.14" width="11.88" height="16.74" fill="#3990c1"/>
<rect x="510.10" y="278.14" width="6.97" height="16.74" fill="#06507d"/>
<rect x="776.44" y="278.14" width="14.49" height="16.74" fill="#3990c1"/>
<rect x="790.92" y="278.14" width="9.44" height="16.74" fill="#06507d"/>
<rect x="1101.16" y="278.14" width="3.73" height="16.74" fill="#fd8d3c"/>
<rect x="1104.90" y="278.14" width="1.54" height="16.74" fill="#bd0026"/>
<rect x="1382.07" y="278.14" width="11.46" height="16.74" fill="#fd8d3c"/>
<rect x="1393.53" y="278.14" width="3.90" height="16.74" fill="#bd0026"/>
<rect x="1663.05" y="278.14" width="42.44" height="16.74" fill="#fd8d3c"/>
<rect x="1705.49" y="278.14" width="11.22" height="16.74" fill="#bd0026"/>
<rect x="217.58" y="296.57" width="11.47" height="16.74" fill="#3990c1"/>
<rect x="229.05" y="296.57" width="10.45" height="16.74" fill="#06507d"/>
<rect x="488.79" y="296.57" width="21.31" height="16.74" fill="#3990c1"/>
<rect x="510.10" y="296.57" width="19.05" height="16.74" fill="#06507d"/>
<rect x="755.14" y="296.57" width="35.78" height="16.74" fill="#3990c1"/>
<rect x="790.92" y="296.57" width="23.93" height="16.74" fill="#06507d"/>
<rect x="1379.14" y="296.57" width="2.93" height="16.74" fill="#fd8d3c"/>
<rect x="1635.01" y="296.57" width="28.05" height="16.74" fill="#fd8d3c"/>
<rect x="1625.01" y="296.57" width="10.00" height="16.74" fill="#bd0026"/>
<rect x="217.78" y="314.99" width="11.27" height="16.74" fill="#3990c1"/>
<rect x="229.05" y="314.99" width="21.10" height="16.74" fill="#06507d"/>
<rect x="490.22" y="314.99" width="19.87" height="16.74" fill="#3990c1"/>
<rect x="510.10" y="314.99" width="42.00" height="16.74" fill="#06507d"/>
<rect x="755.36" y="314.99" width="35.56" height="16.74" fill="#3990c1"/>
<rect x="790.92" y="314.99" width="56.85" height="16.74" fill="#06507d"/>
<rect x="1101.16" y="314.99" width="3.95" height="16.74" fill="#fd8d3c"/>
<rect x="1105.12" y="314.99" width="1.98" height="16.74" fill="#bd0026"/>
<rect x="1382.07" y="314.99" width="9.27" height="16.74" fill="#fd8d3c"/>
<rect x="1391.33" y="314.99" width="4.39" height="16.74" fill="#bd0026"/>
<rect x="1663.05" y="314.99" width="22.68" height="16.74" fill="#fd8d3c"/>
<rect x="1685.74" y="314.99" width="8.29" height="16.74" fill="#bd0026"/>
<rect x="217.58" y="333.41" width="11.47" height="16.74" fill="#3990c1"/>
<rect x="229.05" y="333.41" width="9.63" height="16.74" fill="#06507d"/>
<rect x="490.02" y="333.41" width="20.08" height="16.74" fill="#3990c1"/>
<rect x="510.10" y="333.41" width="19.46" height="16.74" fill="#06507d"/>
<rect x="758.87" y="333.41" width="32.05" height="16.74" fill="#3990c1"/>
<rect x="790.92" y="333.41" width="30.07" height="16.74" fill="#06507d"/>
<rect x="1101.16" y="333.41" width="5.49" height="16.74" fill="#fd8d3c"/>
<rect x="1106.65" y="333.41" width="1.54" height="16.74" fill="#bd0026"/>
<rect x="1382.07" y="333.41" width="11.95" height="16.74" fill="#fd8d3c"/>
<rect x="1394.02" y="333.41" width="4.88" height="16.74" fill="#bd0026"/>
<rect x="1663.05" y="333.41" width="28.54" height="16.74" fill="#fd8d3c"/>
<rect x="1691.59" y="333.41" width="10.73" height="16.74" fill="#bd0026"/>
<rect x="219.63" y="351.84" width="9.42" height="16.74" fill="#3990c1"/>
<rect x="229.05" y="351.84" width="9.83" height="16.74" fill="#06507d"/>
<rect x="494.94" y="351.84" width="15.16" height="16.74" fill="#3990c1"/>
<rect x="510.10" y="351.84" width="23.77" height="16.74" fill="#06507d"/>
<rect x="762.17" y="351.84" width="28.76" height="16.74" fill="#3990c1"/>
<rect x="790.92" y="351.84" width="39.29" height="16.74" fill="#06507d"/>
<rect x="1101.16" y="351.84" width="2.85" height="16.74" fill="#fd8d3c"/>
<rect x="1104.02" y="351.84" width="1.10" height="16.74" fill="#bd0026"/>
<rect x="1382.07" y="351.84" width="7.07" height="16.74" fill="#fd8d3c"/>
<rect x="1389.14" y="351.84" width="1.95" height="16.74" fill="#bd0026"/>
<rect x="1663.05" y="351.84" width="15.61" height="16.74" fill="#fd8d3c"/>
<rect x="1678.66" y="351.84" width="4.63" height="16.74" fill="#bd0026"/>
<rect x="220.65" y="384.94" width="8.40" height="16.74" fill="#3990c1"/>
<rect x="229.05" y="384.94" width="5.74" height="16.74" fill="#06507d"/>
<rect x="494.12" y="384.94" width="15.98" height="16.74" fill="#3990c1"/>
<rect x="510.10" y="384.94" width="18.64" height="16.74" fill="#06507d"/>
<rect x="764.14" y="384.94" width="26.78" height="16.74" fill="#3990c1"/>
<rect x="790.92" y="384.94" width="30.95" height="16.74" fill="#06507d"/>
<rect x="1101.16" y="384.94" width="2.20" height="16.74" fill="#fd8d3c"/>
<rect x="1103.36" y="384.94" width="0.66" height="16.74" fill="#bd0026"/>
<rect x="1382.07" y="384.94" width="3.90" height="16.74" fill="#fd8d3c"/>
<rect x="1385.97" y="384.94" width="0.98" height="16.74" fill="#bd0026"/>
<rect x="1663.05" y="384.94" width="10.00" height="16.74" fill="#fd8d3c"/>
<rect x="1673.05" y="384.94" width="1.71" height="16.74" fill="#bd0026"/>
<rect x="220.24" y="403.37" width="8.81" height="16.74" fill="#3990c1"/>
<rect x="229.05" y="403.37" width="3.89" height="16.74" fill="#06507d"/>
<rect x="495.96" y="403.37" width="14.14" height="16.74" fill="#3990c1"/>
<rect x="510.10" y="403.37" width="12.91" height="16.74" fill="#06507d"/>
<rect x="767.44" y="403.37" width="23.49" height="16.74" fill="#3990c1"/>
<rect x="790.92" y="403.37" width="20.20" height="16.74" fill="#06507d"/>
<rect x="1101.16" y="403.37" width="2.41" height="16.74" fill="#fd8d3c"/>
<rect x="1103.58" y="403.37" width="0.44" height="16.74" fill="#bd0026"/>
<rect x="1382.07" y="403.37" width="3.66" height="16.74" fill="#fd8d3c"/>
<rect x="1385.73" y="403.37" width="1.22" height="16.74" fill="#bd0026"/>
<rect x="1663.05" y="403.37" width="9.02" height="16.74" fill="#fd8d3c"/>
<rect x="1672.08" y="403.37" width="1.71" height="16.74" fill="#bd0026"/>
<rect x="223.11" y="421.79" width="5.94" height="16.74" fill="#3990c1"/>
<rect x="229.05" y="421.79" width="9.22" height="16.74" fill="#06507d"/>
<rect x="500.06" y="421.79" width="10.04" height="16.74" fill="#3990c1"/>
<rect x="510.10" y="421.79" width="30.73" height="16.74" fill="#06507d"/>
<rect x="772.48" y="421.79" width="18.44" height="16.74" fill="#3990c1"/>
<rect x="790.92" y="421.79" width="50.05" height="16.74" fill="#06507d"/>
<rect x="1101.16" y="421.79" width="0.66" height="16.74" fill="#fd8d3c"/>
<rect x="1101.82" y="421.79" width="0.88" height="16.74" fill="#bd0026"/>
<rect x="1382.07" y="421.79" width="1.71" height="16.74" fill="#fd8d3c"/>
<rect x="1383.77" y="421.79" width="1.22" height="16.74" fill="#bd0026"/>
<rect x="1663.05" y="421.79" width="5.12" height="16.74" fill="#fd8d3c"/>
<rect x="1668.18" y="421.79" width="1.46" height="16.74" fill="#bd0026"/>
<rect x="222.29" y="440.21" width="6.76" height="16.74" fill="#3990c1"/>
<rect x="229.05" y="440.21" width="18.85" height="16.74" fill="#06507d"/>
<rect x="496.16" y="440.21" width="13.93" height="16.74" fill="#3990c1"/>
<rect x="510.10" y="440.21" width="42.00" height="16.74" fill="#06507d"/>
<rect x="766.78" y="440.21" width="24.15" height="16.74" fill="#3990c1"/>
<rect x="790.92" y="440.21" width="67.61" height="16.74" fill="#06507d"/>
<rect x="1382.07" y="440.21" width="0.24" height="16.74" fill="#fd8d3c"/>
<rect x="1382.31" y="440.21" width="1.46" height="16.74" fill="#bd0026"/>
<rect x="1663.05" y="440.21" width="2.44" height="16.74" fill="#fd8d3c"/>
<rect x="1665.49" y="440.21" width="1.22" height="16.74" fill="#bd0026"/>
<rect x="224.95" y="458.64" width="4.10" height="16.74" fill="#3990c1"/>
<rect x="229.05" y="458.64" width="13.11" height="16.74" fill="#06507d"/>
<rect x="502.72" y="458.64" width="7.38" height="16.74" fill="#3990c1"/>
<rect x="510.10" y="458.64" width="33.80" height="16.74" fill="#06507d"/>
<rect x="778.19" y="458.64" width="12.73" height="16.74" fill="#3990c1"/>
<rect x="790.92" y="458.64" width="50.93" height="16.74" fill="#06507d"/>
<rect x="1663.05" y="458.64" width="0.49" height="16.74" fill="#fd8d3c"/>
<rect x="1663.54" y="458.64" width="0.49" height="16.74" fill="#bd0026"/>
<rect x="219.22" y="477.06" width="9.83" height="16.74" fill="#3990c1"/>
<rect x="229.05" y="477.06" width="13.52" height="16.74" fill="#06507d"/>
<rect x="494.53" y="477.06" width="15.57" height="16.74" fill="#3990c1"/>
<rect x="510.10" y="477.06" width="27.45" height="16.74" fill="#06507d"/>
<rect x="764.58" y="477.06" width="26.34" height="16.74" fill="#3990c1"/>
<rect x="790.92" y="477.06" width="23.93" height="16.74" fill="#06507d"/>
<rect x="1101.16" y="477.06" width="2.41" height="16.74" fill="#fd8d3c"/>
<rect x="1103.58" y="477.06" width="0.66" height="16.74" fill="#bd0026"/>
<rect x="1382.07" y="477.06" width="4.39" height="16.74" fill="#fd8d3c"/>
<rect x="1386.46" y="477.06" width="1.46" height="16.74" fill="#bd0026"/>
<rect x="1663.05" y="477.06" width="10.24" height="16.74" fill="#fd8d3c"/>
<rect x="1673.30" y="477.06" width="1.71" height="16.74" fill="#bd0026"/>
<rect x="208.36" y="495.48" width="9.63" height="16.74" fill="#06507d"/>
<rect x="217.99" y="495.48" width="11.06" height="16.74" fill="#3990c1"/>
<rect x="475.88" y="495.48" width="16.19" height="16.74" fill="#06507d"/>
<rect x="492.07" y="495.48" width="18.03" height="16.74" fill="#3990c1"/>
<rect x="736.05" y="495.48" width="23.71" height="16.74" fill="#06507d"/>
<rect x="759.75" y="495.48" width="31.17" height="16.74" fill="#3990c1"/>
<rect x="1101.16" y="495.48" width="1.54" height="16.74" fill="#fd8d3c"/>
<rect x="1382.07" y="495.48" width="3.17" height="16.74" fill="#fd8d3c"/>
<rect x="1663.05" y="495.48" width="6.83" height="16.74" fill="#fd8d3c"/>
<rect x="1669.88" y="495.48" width="0.73" height="16.74" fill="#bd0026"/>
<rect x="221.26" y="528.59" width="7.79" height="16.74" fill="#3990c1"/>
<rect x="229.05" y="528.59" width="6.76" height="16.74" fill="#06507d"/>
<rect x="497.19" y="528.59" width="12.91" height="16.74" fill="#3990c1"/>
<rect x="510.10" y="528.59" width="17.00" height="16.74" fill="#06507d"/>
<rect x="770.29" y="528.59" width="20.63" height="16.74" fill="#3990c1"/>
<rect x="790.92" y="528.59" width="26.34" height="16.74" fill="#06507d"/>
<rect x="1101.16" y="528.59" width="3.29" height="16.74" fill="#fd8d3c"/>
<rect x="1104.46" y="528.59" width="1.54" height="16.74" fill="#bd0026"/>
<rect x="1382.07" y="528.59" width="8.29" height="16.74" fill="#fd8d3c"/>
<rect x="1390.36" y="528.59" width="1.95" height="16.74" fill="#bd0026"/>
<rect x="1663.05" y="528.59" width="18.05" height="16.74" fill="#fd8d3c"/>
<rect x="1681.10" y="528.59" width="3.66" height="16.74" fill="#bd0026"/>
<rect x="222.29" y="547.01" width="6.76" height="16.74" fill="#3990c1"/>
<rect x="229.05" y="547.01" width="8.20" height="16.74" fill="#06507d"/>
<rect x="498.21" y="547.01" width="11.88" height="16.74" fill="#3990c1"/>
<rect x="510.10" y="547.01" width="17.00" height="16.74" fill="#06507d"/>
<rect x="771.61" y="547.01" width="19.32" height="16.74" fill="#3990c1"/>
<rect x="790.92" y="547.01" width="18.00" height="16.74" fill="#06507d"/>
<rect x="1101.16" y="547.01" width="2.63" height="16.74" fill="#fd8d3c"/>
<rect x="1103.80" y="547.01" width="1.54" height="16.74" fill="#bd0026"/>
<rect x="1382.07" y="547.01" width="6.10" height="16.74" fill="#fd8d3c"/>
<rect x="1388.16" y="547.01" width="1.71" height="16.74" fill="#bd0026"/>
<rect x="1663.05" y="547.01" width="12.93" height="16.74" fill="#fd8d3c"/>
<rect x="1675.98" y="547.01" width="2.93" height="16.74" fill="#bd0026"/>
<rect x="221.67" y="565.44" width="7.38" height="16.74" fill="#3990c1"/>
<rect x="229.05" y="565.44" width="2.05" height="16.74" fill="#06507d"/>
<rect x="498.21" y="565.44" width="11.88" height="16.74" fill="#3990c1"/>
<rect x="510.10" y="565.44" width="5.74" height="16.74" fill="#06507d"/>
<rect x="771.39" y="565.44" width="19.54" height="16.74" fill="#3990c1"/>
<rect x="790.92" y="565.44" width="8.34" height="16.74" fill="#06507d"/>
<rect x="1101.16" y="565.44" width="3.07" height="16.74" fill="#fd8d3c"/>
<rect x="1104.24" y="565.44" width="0.88" height="16.74" fill="#bd0026"/>
<rect x="1382.07" y="565.44" width="7.32" height="16.74" fill="#fd8d3c"/>
<rect x="1389.38" y="565.44" width="1.46" height="16.74" fill="#bd0026"/>
<rect x="1663.05" y="565.44" width="17.07" height="16.74" fill="#fd8d3c"/>
<rect x="1680.13" y="565.44" width="1.95" height="16.74" fill="#bd0026"/>
<rect x="219.22" y="583.86" width="9.83" height="16.74" fill="#3990c1"/>
<rect x="229.05" y="583.86" width="4.92" height="16.74" fill="#06507d"/>
<rect x="493.09" y="583.86" width="17.00" height="16.74" fill="#3990c1"/>
<rect x="510.10" y="583.86" width="20.49" height="16.74" fill="#06507d"/>
<rect x="762.39" y="583.86" width="28.54" height="16.74" fill="#3990c1"/>
<rect x="790.92" y="583.86" width="30.73" height="16.74" fill="#06507d"/>
<rect x="1101.16" y="583.86" width="5.05" height="16.74" fill="#fd8d3c"/>
<rect x="1106.21" y="583.86" width="0.88" height="16.74" fill="#bd0026"/>
<rect x="1382.07" y="583.86" width="11.22" height="16.74" fill="#fd8d3c"/>
<rect x="1393.29" y="583.86" width="1.95" height="16.74" fill="#bd0026"/>
<rect x="1663.05" y="583.86" width="25.85" height="16.74" fill="#fd8d3c"/>
<rect x="1688.91" y="583.86" width="3.66" height="16.74" fill="#bd0026"/>
<rect x="220.24" y="616.97" width="8.81" height="16.74" fill="#3990c1"/>
<rect x="229.05" y="616.97" width="0.41" height="16.74" fill="#06507d"/>
<rect x="494.32" y="616.97" width="15.78" height="16.74" fill="#3990c1"/>
<rect x="510.10" y="616.97" width="11.06" height="16.74" fill="#06507d"/>
<rect x="765.24" y="616.97" width="25.68" height="16.74" fill="#3990c1"/>
<rect x="790.92" y="616.97" width="30.29" height="16.74" fill="#06507d"/>
<rect x="1101.16" y="616.97" width="7.90" height="16.74" fill="#fd8d3c"/>
<rect x="1382.07" y="616.97" width="15.12" height="16.74" fill="#fd8d3c"/>
<rect x="1397.19" y="616.97" width="2.44" height="16.74" fill="#bd0026"/>
<rect x="1663.05" y="616.97" width="33.90" height="16.74" fill="#fd8d3c"/>
<rect x="1696.96" y="616.97" width="5.85" height="16.74" fill="#bd0026"/>
<rect x="214.30" y="635.39" width="5.74" height="16.74" fill="#06507d"/>
<rect x="220.04" y="635.39" width="9.01" height="16.74" fill="#3990c1"/>
<rect x="496.37" y="635.39" width="13.73" height="16.74" fill="#3990c1"/>
<rect x="510.10" y="635.39" width="2.46" height="16.74" fill="#06507d"/>
<rect x="767.44" y="635.39" width="23.49" height="16.74" fill="#3990c1"/>
<rect x="790.92" y="635.39" width="14.71" height="16.74" fill="#06507d"/>
<rect x="1101.16" y="635.39" width="6.15" height="16.74" fill="#fd8d3c"/>
<rect x="1107.31" y="635.39" width="0.22" height="16.74" fill="#bd0026"/>
<rect x="1382.07" y="635.39" width="12.44" height="16.74" fill="#fd8d3c"/>
<rect x="1394.51" y="635.39" width="1.22" height="16.74" fill="#bd0026"/>
<rect x="1663.05" y="635.39" width="27.07" height="16.74" fill="#fd8d3c"/>
<rect x="1690.13" y="635.39" width="4.63" height="16.74" fill="#bd0026"/>
<rect x="217.17" y="653.81" width="11.88" height="16.74" fill="#3990c1"/>
<rect x="229.05" y="653.81" width="2.87" height="16.74" fill="#06507d"/>
<rect x="489.20" y="653.81" width="20.90" height="16.74" fill="#3990c1"/>
<rect x="510.10" y="653.81" width="11.06" height="16.74" fill="#06507d"/>
<rect x="754.70" y="653.81" width="36.22" height="16.74" fill="#3990c1"/>
<rect x="790.92" y="653.81" width="25.02" height="16.74" fill="#06507d"/>
<rect x="1101.16" y="653.81" width="3.73" height="16.74" fill="#fd8d3c"/>
<rect x="1104.90" y="653.81" width="1.10" height="16.74" fill="#bd0026"/>
<rect x="1382.07" y="653.81" width="8.54" height="16.74" fill="#fd8d3c"/>
<rect x="1390.60" y="653.81" width="1.71" height="16.74" fill="#bd0026"/>
<rect x="1663.05" y="653.81" width="19.02" height="16.74" fill="#fd8d3c"/>
<rect x="1682.08" y="653.81" width="3.90" height="16.74" fill="#bd0026"/>
<rect x="212.46" y="672.23" width="16.60" height="16.74" fill="#3990c1"/>
<rect x="229.05" y="672.23" width="19.87" height="16.74" fill="#06507d"/>
<rect x="484.08" y="672.23" width="26.02" height="16.74" fill="#3990c1"/>
<rect x="510.10" y="672.23" width="38.11" height="16.74" fill="#06507d"/>
<rect x="747.46" y="672.23" width="43.46" height="16.74" fill="#3990c1"/>
<rect x="790.92" y="672.23" width="43.24" height="16.74" fill="#06507d"/>
<rect x="1101.16" y="672.23" width="2.85" height="16.74" fill="#fd8d3c"/>
<rect x="1104.02" y="672.23" width="1.76" height="16.74" fill="#bd0026"/>
<rect x="1382.07" y="672.23" width="6.83" height="16.74" fill="#fd8d3c"/>
<rect x="1388.90" y="672.23" width="2.20" height="16.74" fill="#bd0026"/>
<rect x="1663.05" y="672.23" width="15.12" height="16.74" fill="#fd8d3c"/>
<rect x="1678.18" y="672.23" width="3.66" height="16.74" fill="#bd0026"/>
<rect x="215.94" y="690.66" width="13.11" height="16.74" fill="#3990c1"/>
<rect x="229.05" y="690.66" width="0.41" height="16.74" fill="#06507d"/>
<rect x="489.61" y="690.66" width="20.49" height="16.74" fill="#3990c1"/>
<rect x="510.10" y="690.66" width="7.99" height="16.74" fill="#06507d"/>
<rect x="756.46" y="690.66" width="34.46" height="16.74" fill="#3990c1"/>
<rect x="790.92" y="690.66" width="21.07" height="16.74" fill="#06507d"/>
<rect x="1101.16" y="690.66" width="11.20" height="16.74" fill="#fd8d3c"/>
<rect x="1112.36" y="690.66" width="0.66" height="16.74" fill="#bd0026"/>
<rect x="1382.07" y="690.66" width="21.22" height="16.74" fill="#fd8d3c"/>
<rect x="1403.29" y="690.66" width="1.95" height="16.74" fill="#bd0026"/>
<rect x="1663.05" y="690.66" width="42.93" height="16.74" fill="#fd8d3c"/>
<rect x="1705.98" y="690.66" width="5.61" height="16.74" fill="#bd0026"/>
<rect x="220.45" y="709.08" width="8.60" height="16.74" fill="#3990c1"/>
<rect x="229.05" y="709.08" width="0.41" height="16.74" fill="#06507d"/>
<rect x="496.98" y="709.08" width="13.11" height="16.74" fill="#3990c1"/>
<rect x="510.10" y="709.08" width="4.71" height="16.74" fill="#06507d"/>
<rect x="768.09" y="709.08" width="22.83" height="16.74" fill="#3990c1"/>
<rect x="790.92" y="709.08" width="11.20" height="16.74" fill="#06507d"/>
<rect x="1101.16" y="709.08" width="8.34" height="16.74" fill="#fd8d3c"/>
<rect x="1109.51" y="709.08" width="0.88" height="16.74" fill="#bd0026"/>
<rect x="1382.07" y="709.08" width="16.10" height="16.74" fill="#fd8d3c"/>
<rect x="1398.16" y="709.08" width="1.71" height="16.74" fill="#bd0026"/>
<rect x="1663.05" y="709.08" width="32.93" height="16.74" fill="#fd8d3c"/>
<rect x="1695.98" y="709.08" width="4.88" height="16.74" fill="#bd0026"/>
<rect x="209.18" y="742.19" width="9.42" height="16.74" fill="#06507d"/>
<rect x="218.60" y="742.19" width="10.45" height="16.74" fill="#3990c1"/>
<rect x="487.97" y="742.19" width="5.12" height="16.74" fill="#06507d"/>
<rect x="493.09" y="742.19" width="17.00" height="16.74" fill="#3990c1"/>
<rect x="761.51" y="742.19" width="29.41" height="16.74" fill="#3990c1"/>
<rect x="790.92" y="742.19" width="6.37" height="16.74" fill="#06507d"/>
<rect x="1101.16" y="742.19" width="9.44" height="16.74" fill="#fd8d3c"/>
<rect x="1382.07" y="742.19" width="18.05" height="16.74" fill="#fd8d3c"/>
<rect x="1400.12" y="742.19" width="0.98" height="16.74" fill="#bd0026"/>
<rect x="1663.05" y="742.19" width="39.02" height="16.74" fill="#fd8d3c"/>
<rect x="1702.08" y="742.19" width="4.88" height="16.74" fill="#bd0026"/>
<rect x="206.31" y="760.61" width="10.86" height="16.74" fill="#06507d"/>
<rect x="217.17" y="760.61" width="11.88" height="16.74" fill="#3990c1"/>
<rect x="474.86" y="760.61" width="15.98" height="16.74" fill="#06507d"/>
<rect x="490.84" y="760.61" width="19.26" height="16.74" fill="#3990c1"/>
<rect x="697.19" y="760.61" width="60.80" height="16.74" fill="#06507d"/>
<rect x="758.00" y="760.61" width="32.93" height="16.74" fill="#3990c1"/>
<rect x="1101.16" y="760.61" width="7.02" height="16.74" fill="#fd8d3c"/>
<rect x="1382.07" y="760.61" width="13.41" height="16.74" fill="#fd8d3c"/>
<rect x="1395.48" y="760.61" width="0.49" height="16.74" fill="#bd0026"/>
<rect x="1663.05" y="760.61" width="30.00" height="16.74" fill="#fd8d3c"/>
<rect x="1693.05" y="760.61" width="0.49" height="16.74" fill="#bd0026"/>
<rect x="219.22" y="779.03" width="9.83" height="16.74" fill="#3990c1"/>
<rect x="229.05" y="779.03" width="6.76" height="16.74" fill="#06507d"/>
<rect x="494.53" y="779.03" width="15.57" height="16.74" fill="#3990c1"/>
<rect x="510.10" y="779.03" width="19.87" height="16.74" fill="#06507d"/>
<rect x="765.24" y="779.03" width="25.68" height="16.74" fill="#3990c1"/>
<rect x="790.92" y="779.03" width="37.76" height="16.74" fill="#06507d"/>
<rect x="1101.16" y="779.03" width="3.73" height="16.74" fill="#fd8d3c"/>
<rect x="1104.90" y="779.03" width="1.10" height="16.74" fill="#bd0026"/>
<rect x="1382.07" y="779.03" width="8.29" height="16.74" fill="#fd8d3c"/>
<rect x="1390.36" y="779.03" width="1.95" height="16.74" fill="#bd0026"/>
<rect x="1663.05" y="779.03" width="18.05" height="16.74" fill="#fd8d3c"/>
<rect x="1681.10" y="779.03" width="4.63" height="16.74" fill="#bd0026"/>
<rect x="219.63" y="812.14" width="9.42" height="16.74" fill="#3990c1"/>
<rect x="229.05" y="812.14" width="9.01" height="16.74" fill="#06507d"/>
<rect x="491.86" y="812.14" width="18.23" height="16.74" fill="#3990c1"/>
<rect x="510.10" y="812.14" width="20.49" height="16.74" fill="#06507d"/>
<rect x="756.46" y="812.14" width="34.46" height="16.74" fill="#3990c1"/>
<rect x="790.92" y="812.14" width="41.71" height="16.74" fill="#06507d"/>
<rect x="1660.13" y="812.14" width="2.93" height="16.74" fill="#bd0026"/>
<rect x="215.94" y="830.57" width="13.11" height="16.74" fill="#3990c1"/>
<rect x="229.05" y="830.57" width="3.28" height="16.74" fill="#06507d"/>
<rect x="487.97" y="830.57" width="22.13" height="16.74" fill="#3990c1"/>
<rect x="510.10" y="830.57" width="6.56" height="16.74" fill="#06507d"/>
<rect x="757.56" y="830.57" width="33.37" height="16.74" fill="#3990c1"/>
<rect x="790.92" y="830.57" width="12.07" height="16.74" fill="#06507d"/>
<rect x="1101.16" y="830.57" width="3.07" height="16.74" fill="#fd8d3c"/>
<rect x="1104.24" y="830.57" width="0.88" height="16.74" fill="#bd0026"/>
<rect x="1382.07" y="830.57" width="8.05" height="16.74" fill="#fd8d3c"/>
<rect x="1390.12" y="830.57" width="1.95" height="16.74" fill="#bd0026"/>
<rect x="1663.05" y="830.57" width="21.71" height="16.74" fill="#fd8d3c"/>
<rect x="1684.76" y="830.57" width="8.29" height="16.74" fill="#bd0026"/>
<rect x="220.24" y="863.67" width="8.81" height="16.74" fill="#3990c1"/>
<rect x="229.05" y="863.67" width="39.95" height="16.74" fill="#06507d"/>
<rect x="493.71" y="863.67" width="16.39" height="16.74" fill="#3990c1"/>
<rect x="510.10" y="863.67" width="84.41" height="16.74" fill="#06507d"/>
<rect x="761.51" y="863.67" width="29.41" height="16.74" fill="#3990c1"/>
<rect x="790.92" y="863.67" width="113.27" height="16.74" fill="#06507d"/>
<rect x="1101.16" y="863.67" width="6.15" height="16.74" fill="#fd8d3c"/>
<rect x="1107.31" y="863.67" width="2.63" height="16.74" fill="#bd0026"/>
<rect x="1382.07" y="863.67" width="12.20" height="16.74" fill="#fd8d3c"/>
<rect x="1394.26" y="863.67" width="6.83" height="16.74" fill="#bd0026"/>
<rect x="1663.05" y="863.67" width="27.80" height="16.74" fill="#fd8d3c"/>
<rect x="1690.86" y="863.67" width="12.68" height="16.74" fill="#bd0026"/>
<rect x="217.17" y="882.10" width="11.88" height="16.74" fill="#3990c1"/>
<rect x="229.05" y="882.10" width="11.88" height="16.74" fill="#06507d"/>
<rect x="490.84" y="882.10" width="19.26" height="16.74" fill="#3990c1"/>
<rect x="510.10" y="882.10" width="27.25" height="16.74" fill="#06507d"/>
<rect x="756.90" y="882.10" width="34.02" height="16.74" fill="#3990c1"/>
<rect x="790.92" y="882.10" width="42.37" height="16.74" fill="#06507d"/>
<rect x="1101.16" y="882.10" width="3.51" height="16.74" fill="#fd8d3c"/>
<rect x="1104.68" y="882.10" width="1.32" height="16.74" fill="#bd0026"/>
<rect x="1382.07" y="882.10" width="10.00" height="16.74" fill="#fd8d3c"/>
<rect x="1392.07" y="882.10" width="1.95" height="16.74" fill="#bd0026"/>
<rect x="1663.05" y="882.10" width="23.17" height="16.74" fill="#fd8d3c"/>
<rect x="1686.23" y="882.10" width="4.63" height="16.74" fill="#bd0026"/>
<rect x="217.99" y="900.52" width="11.06" height="16.74" fill="#3990c1"/>
<rect x="229.05" y="900.52" width="15.16" height="16.74" fill="#06507d"/>
<rect x="492.07" y="900.52" width="18.03" height="16.74" fill="#3990c1"/>
<rect x="510.10" y="900.52" width="37.08" height="16.74" fill="#06507d"/>
<rect x="759.53" y="900.52" width="31.39" height="16.74" fill="#3990c1"/>
<rect x="790.92" y="900.52" width="61.90" height="16.74" fill="#06507d"/>
<rect x="1101.16" y="900.52" width="3.51" height="16.74" fill="#fd8d3c"/>
<rect x="1104.68" y="900.52" width="1.76" height="16.74" fill="#bd0026"/>
<rect x="1382.07" y="900.52" width="8.54" height="16.74" fill="#fd8d3c"/>
<rect x="1390.60" y="900.52" width="2.68" height="16.74" fill="#bd0026"/>
<rect x="1663.05" y="900.52" width="19.51" height="16.74" fill="#fd8d3c"/>
<rect x="1682.57" y="900.52" width="5.12" height="16.74" fill="#bd0026"/>
<rect x="224.75" y="933.63" width="4.30" height="16.74" fill="#3990c1"/>
<rect x="229.05" y="933.63" width="9.01" height="16.74" fill="#06507d"/>
<rect x="501.90" y="933.63" width="8.20" height="16.74" fill="#3990c1"/>
<rect x="510.10" y="933.63" width="30.32" height="16.74" fill="#06507d"/>
<rect x="777.31" y="933.63" width="13.61" height="16.74" fill="#3990c1"/>
<rect x="790.92" y="933.63" width="56.20" height="16.74" fill="#06507d"/>
<rect x="1101.16" y="933.63" width="3.29" height="16.74" fill="#fd8d3c"/>
<rect x="1104.46" y="933.63" width="1.32" height="16.74" fill="#bd0026"/>
<rect x="1382.07" y="933.63" width="8.05" height="16.74" fill="#fd8d3c"/>
<rect x="1390.12" y="933.63" width="3.90" height="16.74" fill="#bd0026"/>
<rect x="1663.05" y="933.63" width="20.00" height="16.74" fill="#fd8d3c"/>
<rect x="1683.05" y="933.63" width="8.05" height="16.74" fill="#bd0026"/>
<rect x="221.67" y="966.73" width="7.38" height="16.74" fill="#3990c1"/>
<rect x="229.05" y="966.73" width="31.76" height="16.74" fill="#06507d"/>
<rect x="496.78" y="966.73" width="13.32" height="16.74" fill="#3990c1"/>
<rect x="510.10" y="966.73" width="57.78" height="16.74" fill="#06507d"/>
<rect x="768.53" y="966.73" width="22.39" height="16.74" fill="#3990c1"/>
<rect x="790.92" y="966.73" width="73.10" height="16.74" fill="#06507d"/>
<rect x="1101.16" y="966.73" width="1.76" height="16.74" fill="#fd8d3c"/>
<rect x="1102.92" y="966.73" width="1.10" height="16.74" fill="#bd0026"/>
<rect x="1382.07" y="966.73" width="3.90" height="16.74" fill="#fd8d3c"/>
<rect x="1385.97" y="966.73" width="1.95" height="16.74" fill="#bd0026"/>
<rect x="1663.05" y="966.73" width="8.78" height="16.74" fill="#fd8d3c"/>
<rect x="1671.83" y="966.73" width="2.93" height="16.74" fill="#bd0026"/>
<rect x="218.81" y="985.16" width="10.24" height="16.74" fill="#3990c1"/>
<rect x="229.05" y="985.16" width="11.88" height="16.74" fill="#06507d"/>
<rect x="492.07" y="985.16" width="18.03" height="16.74" fill="#3990c1"/>
<rect x="510.10" y="985.16" width="14.34" height="16.74" fill="#06507d"/>
<rect x="760.41" y="985.16" width="30.51" height="16.74" fill="#3990c1"/>
<rect x="790.92" y="985.16" width="2.20" height="16.74" fill="#06507d"/>
<rect x="1101.16" y="985.16" width="0.66" height="16.74" fill="#fd8d3c"/>
<rect x="1101.82" y="985.16" width="0.88" height="16.74" fill="#bd0026"/>
<rect x="1382.07" y="985.16" width="2.44" height="16.74" fill="#fd8d3c"/>
<rect x="1384.51" y="985.16" width="0.98" height="16.74" fill="#bd0026"/>
<rect x="1663.05" y="985.16" width="5.85" height="16.74" fill="#fd8d3c"/>
<rect x="1668.91" y="985.16" width="0.98" height="16.74" fill="#bd0026"/>
<rect x="216.14" y="1003.58" width="12.91" height="16.74" fill="#3990c1"/>
<rect x="229.05" y="1003.58" width="30.12" height="16.74" fill="#06507d"/>
<rect x="488.17" y="1003.58" width="21.92" height="16.74" fill="#3990c1"/>
<rect x="510.10" y="1003.58" width="59.82" height="16.74" fill="#06507d"/>
<rect x="753.83" y="1003.58" width="37.10" height="16.74" fill="#3990c1"/>
<rect x="790.92" y="1003.58" width="74.63" height="16.74" fill="#06507d"/>
<rect x="1101.16" y="1003.58" width="4.17" height="16.74" fill="#fd8d3c"/>
<rect x="1105.33" y="1003.58" width="1.98" height="16.74" fill="#bd0026"/>
<rect x="1382.07" y="1003.58" width="9.02" height="16.74" fill="#fd8d3c"/>
<rect x="1391.09" y="1003.58" width="4.15" height="16.74" fill="#bd0026"/>
<rect x="1663.05" y="1003.58" width="20.73" height="16.74" fill="#fd8d3c"/>
<rect x="1683.79" y="1003.58" width="7.56" height="16.74" fill="#bd0026"/>
<rect x="206.92" y="1036.69" width="22.13" height="16.74" fill="#3990c1"/>
<rect x="229.05" y="1036.69" width="9.83" height="16.74" fill="#06507d"/>
<rect x="475.27" y="1036.69" width="34.83" height="16.74" fill="#3990c1"/>
<rect x="510.10" y="1036.69" width="22.54" height="16.74" fill="#06507d"/>
<rect x="744.39" y="1036.69" width="46.54" height="16.74" fill="#3990c1"/>
<rect x="790.92" y="1036.69" width="31.39" height="16.74" fill="#06507d"/>
<rect x="1101.16" y="1036.69" width="13.83" height="16.74" fill="#fd8d3c"/>
<rect x="1114.99" y="1036.69" width="3.51" height="16.74" fill="#bd0026"/>
<rect x="1382.07" y="1036.69" width="31.95" height="16.74" fill="#fd8d3c"/>
<rect x="1414.02" y="1036.69" width="11.95" height="16.74" fill="#bd0026"/>
<rect x="1663.05" y="1036.69" width="89.76" height="16.74" fill="#fd8d3c"/>
<rect x="1752.81" y="1036.69" width="26.10" height="16.74" fill="#bd0026"/>
<rect x="216.96" y="1055.11" width="12.09" height="16.74" fill="#3990c1"/>
<rect x="229.05" y="1055.11" width="9.83" height="16.74" fill="#06507d"/>
<rect x="489.61" y="1055.11" width="20.49" height="16.74" fill="#3990c1"/>
<rect x="510.10" y="1055.11" width="17.82" height="16.74" fill="#06507d"/>
<rect x="759.97" y="1055.11" width="30.95" height="16.74" fill="#3990c1"/>
<rect x="790.92" y="1055.11" width="21.07" height="16.74" fill="#06507d"/>
<rect x="1101.16" y="1055.11" width="8.56" height="16.74" fill="#fd8d3c"/>
<rect x="1109.73" y="1055.11" width="2.85" height="16.74" fill="#bd0026"/>
<rect x="1382.07" y="1055.11" width="19.02" height="16.74" fill="#fd8d3c"/>
<rect x="1401.09" y="1055.11" width="7.80" height="16.74" fill="#bd0026"/>
<rect x="1663.05" y="1055.11" width="49.02" height="16.74" fill="#fd8d3c"/>
<rect x="1712.08" y="1055.11" width="14.88" height="16.74" fill="#bd0026"/>
<rect x="214.30" y="1073.53" width="14.75" height="16.74" fill="#3990c1"/>
<rect x="229.05" y="1073.53" width="6.76" height="16.74" fill="#06507d"/>
<rect x="487.36" y="1073.53" width="22.74" height="16.74" fill="#3990c1"/>
<rect x="510.10" y="1073.53" width="12.70" height="16.74" fill="#06507d"/>
<rect x="760.63" y="1073.53" width="30.29" height="16.74" fill="#3990c1"/>
<rect x="790.92" y="1073.53" width="17.34" height="16.74" fill="#06507d"/>
<rect x="1101.16" y="1073.53" width="10.98" height="16.74" fill="#fd8d3c"/>
<rect x="1112.14" y="1073.53" width="3.73" height="16.74" fill="#bd0026"/>
<rect x="1382.07" y="1073.53" width="25.37" height="16.74" fill="#fd8d3c"/>
<rect x="1407.43" y="1073.53" width="10.24" height="16.74" fill="#bd0026"/>
<rect x="1663.05" y="1073.53" width="72.44" height="16.74" fill="#fd8d3c"/>
<rect x="1735.49" y="1073.53" width="26.59" height="16.74" fill="#bd0026"/>
<rect x="221.26" y="1106.64" width="7.79" height="16.74" fill="#3990c1"/>
<rect x="229.05" y="1106.64" width="9.42" height="16.74" fill="#06507d"/>
<rect x="495.55" y="1106.64" width="14.55" height="16.74" fill="#3990c1"/>
<rect x="510.10" y="1106.64" width="20.69" height="16.74" fill="#06507d"/>
<rect x="765.46" y="1106.64" width="25.46" height="16.74" fill="#3990c1"/>
<rect x="790.92" y="1106.64" width="30.95" height="16.74" fill="#06507d"/>
<rect x="1101.16" y="1106.64" width="2.41" height="16.74" fill="#fd8d3c"/>
<rect x="1103.58" y="1106.64" width="1.32" height="16.74" fill="#bd0026"/>
<rect x="1382.07" y="1106.64" width="4.88" height="16.74" fill="#fd8d3c"/>
<rect x="1386.94" y="1106.64" width="2.93" height="16.74" fill="#bd0026"/>
<rect x="1663.05" y="1106.64" width="11.95" height="16.74" fill="#fd8d3c"/>
<rect x="1675.01" y="1106.64" width="4.39" height="16.74" fill="#bd0026"/>
<line x1="229.05" y1="39.70" x2="229.05" y2="80.23" stroke="#000" stroke-width="2"/>
<line x1="229.05" y1="91.23" x2="229.05" y2="371.26" stroke="#000" stroke-width="2"/>
<line x1="229.05" y1="382.26" x2="229.05" y2="514.91" stroke="#000" stroke-width="2"/>
<line x1="229.05" y1="525.91" x2="229.05" y2="603.28" stroke="#000" stroke-width="2"/>
<line x1="229.05" y1="614.28" x2="229.05" y2="728.50" stroke="#000" stroke-width="2"/>
<line x1="229.05" y1="739.50" x2="229.05" y2="798.46" stroke="#000" stroke-width="2"/>
<line x1="229.05" y1="809.46" x2="229.05" y2="849.99" stroke="#000" stroke-width="2"/>
<line x1="229.05" y1="860.99" x2="229.05" y2="919.94" stroke="#000" stroke-width="2"/>
<line x1="229.05" y1="930.94" x2="229.05" y2="953.05" stroke="#000" stroke-width="2"/>
<line x1="229.05" y1="964.05" x2="229.05" y2="1023.00" stroke="#000" stroke-width="2"/>
<line x1="229.05" y1="1034.00" x2="229.05" y2="1092.96" stroke="#000" stroke-width="2"/>
<line x1="229.05" y1="1103.96" x2="229.05" y2="1126.07" stroke="#000" stroke-width="2"/>
<line x1="510.10" y1="39.70" x2="510.10" y2="80.23" stroke="#000" stroke-width="2"/>
<line x1="510.10" y1="91.23" x2="510.10" y2="371.26" stroke="#000" stroke-width="2"/>
<line x1="510.10" y1="382.26" x2="510.10" y2="514.91" stroke="#000" stroke-width="2"/>
<line x1="510.10" y1="525.91" x2="510.10" y2="603.28" stroke="#000" stroke-width="2"/>
<line x1="510.10" y1="614.28" x2="510.10" y2="728.50" stroke="#000" stroke-width="2"/>
<line x1="510.10" y1="739.50" x2="510.10" y2="798.46" stroke="#000" stroke-width="2"/>
<line x1="510.10" y1="809.46" x2="510.10" y2="849.99" stroke="#000" stroke-width="2"/>
<line x1="510.10" y1="860.99" x2="510.10" y2="919.94" stroke="#000" stroke-width="2"/>
<line x1="510.10" y1="930.94" x2="510.10" y2="953.05" stroke="#000" stroke-width="2"/>
<line x1="510.10" y1="964.05" x2="510.10" y2="1023.00" stroke="#000" stroke-width="2"/>
<line x1="510.10" y1="1034.00" x2="510.10" y2="1092.96" stroke="#000" stroke-width="2"/>
<line x1="510.10" y1="1103.96" x2="510.10" y2="1126.07" stroke="#000" stroke-width="2"/>
<line x1="790.92" y1="39.70" x2="790.92" y2="80.23" stroke="#000" stroke-width="2"/>
<line x1="790.92" y1="91.23" x2="790.92" y2="371.26" stroke="#000" stroke-width="2"/>
<line x1="790.92" y1="382.26" x2="790.92" y2="514.91" stroke="#000" stroke-width="2"/>
<line x1="790.92" y1="525.91" x2="790.92" y2="603.28" stroke="#000" stroke-width="2"/>
<line x1="790.92" y1="614.28" x2="790.92" y2="728.50" stroke="#000" stroke-width="2"/>
<line x1="790.92" y1="739.50" x2="790.92" y2="798.46" stroke="#000" stroke-width="2"/>
<line x1="790.92" y1="809.46" x2="790.92" y2="849.99" stroke="#000" stroke-width="2"/>
<line x1="790.92" y1="860.99" x2="790.92" y2="919.94" stroke="#000" stroke-width="2"/>
<line x1="790.92" y1="930.94" x2="790.92" y2="953.05" stroke="#000" stroke-width="2"/>
<line x1="790.92" y1="964.05" x2="790.92" y2="1023.00" stroke="#000" stroke-width="2"/>
<line x1="790.92" y1="1034.00" x2="790.92" y2="1092.96" stroke="#000" stroke-width="2"/>
<line x1="790.92" y1="1103.96" x2="790.92" y2="1126.07" stroke="#000" stroke-width="2"/>
<line x1="1101.16" y1="39.70" x2="1101.16" y2="80.23" stroke="#000" stroke-width="2"/>
<line x1="1101.16" y1="91.23" x2="1101.16" y2="371.26" stroke="#000" stroke-width="2"/>
<line x1="1101.16" y1="382.26" x2="1101.16" y2="514.91" stroke="#000" stroke-width="2"/>
<line x1="1101.16" y1="525.91" x2="1101.16" y2="603.28" stroke="#000" stroke-width="2"/>
<line x1="1101.16" y1="614.28" x2="1101.16" y2="728.50" stroke="#000" stroke-width="2"/>
<line x1="1101.16" y1="739.50" x2="1101.16" y2="798.46" stroke="#000" stroke-width="2"/>
<line x1="1101.16" y1="809.46" x2="1101.16" y2="849.99" stroke="#000" stroke-width="2"/>
<line x1="1101.16" y1="860.99" x2="1101.16" y2="919.94" stroke="#000" stroke-width="2"/>
<line x1="1101.16" y1="930.94" x2="1101.16" y2="953.05" stroke="#000" stroke-width="2"/>
<line x1="1101.16" y1="964.05" x2="1101.16" y2="1023.00" stroke="#000" stroke-width="2"/>
<line x1="1101.16" y1="1034.00" x2="1101.16" y2="1092.96" stroke="#000" stroke-width="2"/>
<line x1="1101.16" y1="1103.96" x2="1101.16" y2="1126.07" stroke="#000" stroke-width="2"/>
<line x1="1382.07" y1="39.70" x2="1382.07" y2="80.23" stroke="#000" stroke-width="2"/>
<line x1="1382.07" y1="91.23" x2="1382.07" y2="371.26" stroke="#000" stroke-width="2"/>
<line x1="1382.07" y1="382.26" x2="1382.07" y2="514.91" stroke="#000" stroke-width="2"/>
<line x1="1382.07" y1="525.91" x2="1382.07" y2="603.28" stroke="#000" stroke-width="2"/>
<line x1="1382.07" y1="614.28" x2="1382.07" y2="728.50" stroke="#000" stroke-width="2"/>
<line x1="1382.07" y1="739.50" x2="1382.07" y2="798.46" stroke="#000" stroke-width="2"/>
<line x1="1382.07" y1="809.46" x2="1382.07" y2="849.99" stroke="#000" stroke-width="2"/>
<line x1="1382.07" y1="860.99" x2="1382.07" y2="919.94" stroke="#000" stroke-width="2"/>
<line x1="1382.07" y1="930.94" x2="1382.07" y2="953.05" stroke="#000" stroke-width="2"/>
<line x1="1382.07" y1="964.05" x2="1382.07" y2="1023.00" stroke="#000" stroke-width="2"/>
<line x1="1382.07" y1="1034.00" x2="1382.07" y2="1092.96" stroke="#000" stroke-width="2"/>
<line x1="1382.07" y1="1103.96" x2="1382.07" y2="1126.07" stroke="#000" stroke-width="2"/>
<line x1="1663.05" y1="39.70" x2="1663.05" y2="80.23" stroke="#000" stroke-width="2"/>
<line x1="1663.05" y1="91.23" x2="1663.05" y2="371.26" stroke="#000" stroke-width="2"/>
<line x1="1663.05" y1="382.26" x2="1663.05" y2="514.91" stroke="#000" stroke-width="2"/>
<line x1="1663.05" y1="525.91" x2="1663.05" y2="603.28" stroke="#000" stroke-width="2"/>
<line x1="1663.05" y1="614.28" x2="1663.05" y2="728.50" stroke="#000" stroke-width="2"/>
<line x1="1663.05" y1="739.50" x2="1663.05" y2="798.46" stroke="#000" stroke-width="2"/>
<line x1="1663.05" y1="809.46" x2="1663.05" y2="849.99" stroke="#000" stroke-width="2"/>
<line x1="1663.05" y1="860.99" x2="1663.05" y2="919.94" stroke="#000" stroke-width="2"/>
<line x1="1663.05" y1="930.94" x2="1663.05" y2="953.05" stroke="#000" stroke-width="2"/>
<line x1="1663.05" y1="964.05" x2="1663.05" y2="1023.00" stroke="#000" stroke-width="2"/>
<line x1="1663.05" y1="1034.00" x2="1663.05" y2="1092.96" stroke="#000" stroke-width="2"/>
<line x1="1663.05" y1="1103.96" x2="1663.05" y2="1126.07" stroke="#000" stroke-width="2"/>
<text x="125.10" y="57.35" font-size="18.0" fill="#4d4d4d" text-anchor="end">USA</text>
<text x="125.10" y="75.78" font-size="18.0" fill="#4d4d4d" text-anchor="end">Canada</text>
<text x="1969.30" y="66.47" font-size="18.1" fill="#1a1a1a" text-anchor="middle">Northern America</text>
<text x="125.10" y="108.88" font-size="18.0" fill="#4d4d4d" text-anchor="end">Uruguay</text>
<text x="125.10" y="127.31" font-size="18.0" fill="#4d4d4d" text-anchor="end">Puertorico</text>
<text x="125.10" y="145.73" font-size="18.0" fill="#4d4d4d" text-anchor="end">Peru</text>
<text x="125.10" y="164.15" font-size="18.0" fill="#4d4d4d" text-anchor="end">Paraguay</text>
<text x="125.10" y="182.58" font-size="18.0" fill="#4d4d4d" text-anchor="end">Panama</text>
<text x="125.10" y="201.00" font-size="18.0" fill="#4d4d4d" text-anchor="end">Mexico</text>
<text x="125.10" y="219.42" font-size="18.0" fill="#4d4d4d" text-anchor="end">Martinique</text>
<text x="125.10" y="237.85" font-size="18.0" fill="#4d4d4d" text-anchor="end">Guatemala</text>
<text x="125.10" y="256.27" font-size="18.0" fill="#4d4d4d" text-anchor="end">Guadeloupe</text>
<text x="125.10" y="274.69" font-size="18.0" fill="#4d4d4d" text-anchor="end">French Guiana</text>
<text x="125.10" y="293.11" font-size="18.0" fill="#4d4d4d" text-anchor="end">Costa Rica</text>
<text x="125.10" y="311.54" font-size="18.0" fill="#4d4d4d" text-anchor="end">Colombia</text>
<text x="125.10" y="329.96" font-size="18.0" fill="#4d4d4d" text-anchor="end">Chile</text>
<text x="125.10" y="348.38" font-size="18.0" fill="#4d4d4d" text-anchor="end">Brazil</text>
<text x="125.10" y="366.81" font-size="18.0" fill="#4d4d4d" text-anchor="end">Argentina</text>
<text x="1969.30" y="228.35" font-size="18.1" fill="#1a1a1a" text-anchor="middle">Latin America and</text>
<text x="1969.30" y="247.15" font-size="18.1" fill="#1a1a1a" text-anchor="middle">the Caribbean</text>
<text x="125.10" y="399.91" font-size="18.0" fill="#4d4d4d" text-anchor="end">UK</text>
<text x="125.10" y="418.34" font-size="18.0" fill="#4d4d4d" text-anchor="end">Sweden</text>
<text x="125.10" y="436.76" font-size="18.0" fill="#4d4d4d" text-anchor="end">Norway</text>
<text x="125.10" y="455.18" font-size="18.0" fill="#4d4d4d" text-anchor="end">Ireland</text>
<text x="125.10" y="473.61" font-size="18.0" fill="#4d4d4d" text-anchor="end">Iceland</text>
<text x="125.10" y="492.03" font-size="18.0" fill="#4d4d4d" text-anchor="end">Finland</text>
<text x="125.10" y="510.45" font-size="18.0" fill="#4d4d4d" text-anchor="end">Estonia</text>
<text x="1969.30" y="455.08" font-size="18.1" fill="#1a1a1a" text-anchor="middle">Northern Europe</text>
<text x="125.10" y="543.56" font-size="18.0" fill="#4d4d4d" text-anchor="end">Switzerland</text>
<text x="125.10" y="561.98" font-size="18.0" fill="#4d4d4d" text-anchor="end">Netherlands</text>
<text x="125.10" y="580.41" font-size="18.0" fill="#4d4d4d" text-anchor="end">Germany</text>
<text x="125.10" y="598.83" font-size="18.0" fill="#4d4d4d" text-anchor="end">France</text>
<text x="1969.30" y="571.09" font-size="18.1" fill="#1a1a1a" text-anchor="middle">Western Europe</text>
<text x="125.10" y="631.94" font-size="18.0" fill="#4d4d4d" text-anchor="end">Spain</text>
<text x="125.10" y="650.36" font-size="18.0" fill="#4d4d4d" text-anchor="end">Serbia</text>
<text x="125.10" y="668.78" font-size="18.0" fill="#4d4d4d" text-anchor="end">Portugal</text>
<text x="125.10" y="687.21" font-size="18.0" fill="#4d4d4d" text-anchor="end">Malta</text>
<text x="125.10" y="705.63" font-size="18.0" fill="#4d4d4d" text-anchor="end">Italy</text>
<text x="125.10" y="724.05" font-size="18.0" fill="#4d4d4d" text-anchor="end">Greece</text>
<text x="1969.30" y="677.89" font-size="18.1" fill="#1a1a1a" text-anchor="middle">Southern Europe</text>
<text x="125.10" y="757.16" font-size="18.0" fill="#4d4d4d" text-anchor="end">Romania</text>
<text x="125.10" y="775.58" font-size="18.0" fill="#4d4d4d" text-anchor="end">Moldova</text>
<text x="125.10" y="794.00" font-size="18.0" fill="#4d4d4d" text-anchor="end">Czech Republic</text>
<text x="1969.30" y="775.48" font-size="18.1" fill="#1a1a1a" text-anchor="middle">Eastern Europe</text>
<text x="125.10" y="827.11" font-size="18.0" fill="#4d4d4d" text-anchor="end">South Africa</text>
<text x="125.10" y="845.54" font-size="18.0" fill="#4d4d4d" text-anchor="end">Reunion</text>
<text x="1969.30" y="836.22" font-size="18.1" fill="#1a1a1a" text-anchor="middle">Sub−Saharan Africa</text>
<text x="125.10" y="878.64" font-size="18.0" fill="#4d4d4d" text-anchor="end">Kuwait</text>
<text x="125.10" y="897.07" font-size="18.0" fill="#4d4d4d" text-anchor="end">Israel</text>
<text x="125.10" y="915.49" font-size="18.0" fill="#4d4d4d" text-anchor="end">Cyprus</text>
<text x="1969.30" y="896.97" font-size="18.1" fill="#1a1a1a" text-anchor="middle">Western Asia</text>
<text x="125.10" y="948.60" font-size="18.0" fill="#4d4d4d" text-anchor="end">Iran</text>
<text x="1969.30" y="948.50" font-size="18.1" fill="#1a1a1a" text-anchor="middle">Southern Asia</text>
<text x="125.10" y="981.70" font-size="18.0" fill="#4d4d4d" text-anchor="end">South Korea</text>
<text x="125.10" y="1000.13" font-size="18.0" fill="#4d4d4d" text-anchor="end">Japan</text>
<text x="125.10" y="1018.55" font-size="18.0" fill="#4d4d4d" text-anchor="end">China</text>
<text x="1969.30" y="1000.03" font-size="18.1" fill="#1a1a1a" text-anchor="middle">Eastern Asia</text>
<text x="125.10" y="1051.66" font-size="18.0" fill="#4d4d4d" text-anchor="end">Vietnam</text>
<text x="125.10" y="1070.08" font-size="18.0" fill="#4d4d4d" text-anchor="end">Thailand</text>
<text x="125.10" y="1088.50" font-size="18.0" fill="#4d4d4d" text-anchor="end">Philippines</text>
<text x="1969.30" y="1069.98" font-size="18.1" fill="#1a1a1a" text-anchor="middle">South−eastern Asia</text>
<text x="125.10" y="1121.61" font-size="18.0" fill="#4d4d4d" text-anchor="end">Australia</text>
<text x="1969.30" y="1118.30" font-size="18.1" fill="#1a1a1a" text-anchor="middle">Australia</text>
<line x1="135.00" y1="1126.07" x2="405.00" y2="1126.07" stroke="#000" stroke-width="2"/>
<line x1="147.23" y1="1126.07" x2="147.23" y2="1131.97" stroke="#1a1a1a" stroke-width="1.8"/>
<text x="147.23" y="1149.00" font-size="18.0" fill="#4d4d4d" text-anchor="middle">−5</text>
<line x1="229.05" y1="1126.07" x2="229.05" y2="1131.97" stroke="#1a1a1a" stroke-width="1.8"/>
<text x="229.05" y="1149.00" font-size="18.0" fill="#4d4d4d" text-anchor="middle">0</text>
<line x1="310.87" y1="1126.07" x2="310.87" y2="1131.97" stroke="#1a1a1a" stroke-width="1.8"/>
<text x="310.87" y="1149.00" font-size="18.0" fill="#4d4d4d" text-anchor="middle">5</text>
<line x1="392.69" y1="1126.07" x2="392.69" y2="1131.97" stroke="#1a1a1a" stroke-width="1.8"/>
<text x="392.69" y="1149.00" font-size="18.0" fill="#4d4d4d" text-anchor="middle">10</text>
<line x1="416.00" y1="1126.07" x2="686.00" y2="1126.07" stroke="#000" stroke-width="2"/>
<line x1="428.28" y1="1126.07" x2="428.28" y2="1131.97" stroke="#1a1a1a" stroke-width="1.8"/>
<text x="428.28" y="1149.00" font-size="18.0" fill="#4d4d4d" text-anchor="middle">−5</text>
<line x1="510.10" y1="1126.07" x2="510.10" y2="1131.97" stroke="#1a1a1a" stroke-width="1.8"/>
<text x="510.10" y="1149.00" font-size="18.0" fill="#4d4d4d" text-anchor="middle">0</text>
<line x1="591.91" y1="1126.07" x2="591.91" y2="1131.97" stroke="#1a1a1a" stroke-width="1.8"/>
<text x="591.91" y="1149.00" font-size="18.0" fill="#4d4d4d" text-anchor="middle">5</text>
<line x1="673.73" y1="1126.07" x2="673.73" y2="1131.97" stroke="#1a1a1a" stroke-width="1.8"/>
<text x="673.73" y="1149.00" font-size="18.0" fill="#4d4d4d" text-anchor="middle">10</text>
<line x1="697.00" y1="1126.07" x2="967.00" y2="1126.07" stroke="#000" stroke-width="2"/>
<line x1="709.11" y1="1126.07" x2="709.11" y2="1131.97" stroke="#1a1a1a" stroke-width="1.8"/>
<text x="709.11" y="1149.00" font-size="18.0" fill="#4d4d4d" text-anchor="middle">−5</text>
<line x1="790.92" y1="1126.07" x2="790.92" y2="1131.97" stroke="#1a1a1a" stroke-width="1.8"/>
<text x="790.92" y="1149.00" font-size="18.0" fill="#4d4d4d" text-anchor="middle">0</text>
<line x1="872.74" y1="1126.07" x2="872.74" y2="1131.97" stroke="#1a1a1a" stroke-width="1.8"/>
<text x="872.74" y="1149.00" font-size="18.0" fill="#4d4d4d" text-anchor="middle">5</text>
<line x1="954.56" y1="1126.07" x2="954.56" y2="1131.97" stroke="#1a1a1a" stroke-width="1.8"/>
<text x="954.56" y="1149.00" font-size="18.0" fill="#4d4d4d" text-anchor="middle">10</text>
<line x1="1048.00" y1="1126.07" x2="1318.00" y2="1126.07" stroke="#000" stroke-width="2"/>
<line x1="1101.16" y1="1126.07" x2="1101.16" y2="1131.97" stroke="#1a1a1a" stroke-width="1.8"/>
<text x="1101.16" y="1149.00" font-size="18.0" fill="#4d4d4d" text-anchor="middle">0</text>
<line x1="1182.98" y1="1126.07" x2="1182.98" y2="1131.97" stroke="#1a1a1a" stroke-width="1.8"/>
<text x="1182.98" y="1149.00" font-size="18.0" fill="#4d4d4d" text-anchor="middle">10</text>
<line x1="1264.80" y1="1126.07" x2="1264.80" y2="1131.97" stroke="#1a1a1a" stroke-width="1.8"/>
<text x="1264.80" y="1149.00" font-size="18.0" fill="#4d4d4d" text-anchor="middle">20</text>
<line x1="1329.00" y1="1126.07" x2="1599.00" y2="1126.07" stroke="#000" stroke-width="2"/>
<line x1="1382.07" y1="1126.07" x2="1382.07" y2="1131.97" stroke="#1a1a1a" stroke-width="1.8"/>
<text x="1382.07" y="1149.00" font-size="18.0" fill="#4d4d4d" text-anchor="middle">0</text>
<line x1="1463.88" y1="1126.07" x2="1463.88" y2="1131.97" stroke="#1a1a1a" stroke-width="1.8"/>
<text x="1463.88" y="1149.00" font-size="18.0" fill="#4d4d4d" text-anchor="middle">10</text>
<line x1="1545.70" y1="1126.07" x2="1545.70" y2="1131.97" stroke="#1a1a1a" stroke-width="1.8"/>
<text x="1545.70" y="1149.00" font-size="18.0" fill="#4d4d4d" text-anchor="middle">20</text>
<line x1="1610.00" y1="1126.07" x2="1880.00" y2="1126.07" stroke="#000" stroke-width="2"/>
<line x1="1663.05" y1="1126.07" x2="1663.05" y2="1131.97" stroke="#1a1a1a" stroke-width="1.8"/>
<text x="1663.05" y="1149.00" font-size="18.0" fill="#4d4d4d" text-anchor="middle">0</text>
<line x1="1744.87" y1="1126.07" x2="1744.87" y2="1131.97" stroke="#1a1a1a" stroke-width="1.8"/>
<text x="1744.87" y="1149.00" font-size="18.0" fill="#4d4d4d" text-anchor="middle">10</text>
<line x1="1826.69" y1="1126.07" x2="1826.69" y2="1131.97" stroke="#1a1a1a" stroke-width="1.8"/>
<text x="1826.69" y="1149.00" font-size="18.0" fill="#4d4d4d" text-anchor="middle">20</text>
<text x="372.30" y="1173.60" font-size="21.93" fill="#000" text-anchor="start">Change in excess mortality fraction (%)</text>
<text x="1284.30" y="1173.60" font-size="21.93" fill="#000" text-anchor="start">Change in excess mortality fraction (%)</text>
<rect x="158.20" y="1212.80" width="32.00" height="31.90" fill="#06507d"/>
<text x="203.00" y="1235.10" font-size="17.9" fill="#000" text-anchor="start">Population change</text>
<rect x="362.60" y="1212.80" width="32.00" height="31.90" fill="#3990c1"/>
<text x="407.20" y="1235.10" font-size="17.9" fill="#000" text-anchor="start">Climate change</text>
<text x="1642.00" y="1235.10" font-size="17.9" fill="#000" text-anchor="end">Population change</text>
<rect x="1654.30" y="1212.80" width="32.00" height="31.90" fill="#bd0026"/>
<text x="1823.50" y="1235.10" font-size="17.9" fill="#000" text-anchor="end">Climate change</text>
<rect x="1835.90" y="1212.80" width="31.80" height="31.90" fill="#fd8d3c"/>
<text transform="translate(3.3,28.1) scale(1.035,1)" x="0" y="0" font-size="32.6" font-weight="bold" fill="#444444">A</text>
<text transform="translate(1004.6,28.1) scale(0.96,1)" x="0" y="0" font-size="32.6" font-weight="bold" fill="#1c1c1c">B</text>
</svg>
</body>
</html>
